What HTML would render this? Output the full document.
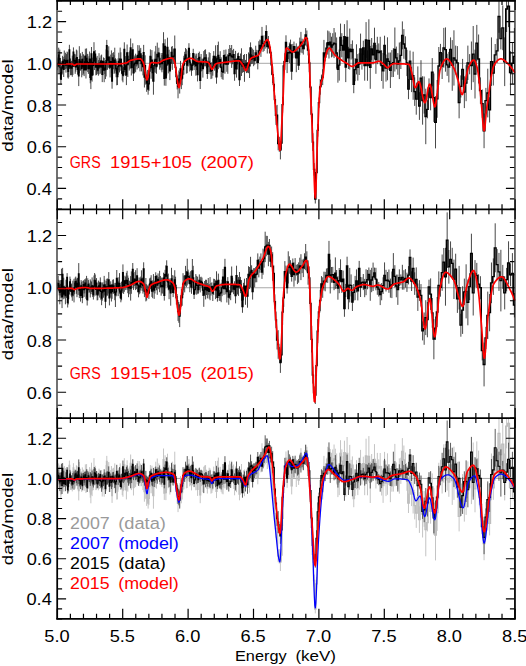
<!DOCTYPE html>
<html><head><meta charset="utf-8"><style>html,body{margin:0;padding:0;background:#fff;overflow:hidden;}svg{display:block;}</style></head>
<body><svg width="526" height="666" viewBox="0 0 526 666">
<rect width="526" height="666" fill="#fff"/><clipPath id="c1"><rect x="57.5" y="0.75" width="457.50" height="208.50"/></clipPath><clipPath id="c2"><rect x="57.5" y="209.40" width="457.50" height="208.96"/></clipPath><clipPath id="c3"><rect x="57.5" y="418.20" width="457.50" height="200.75"/></clipPath><path d="M57.5 63.30H515.0" stroke="#a8a8a8" stroke-width="1"/><path d="M57.5 287.76H515.0" stroke="#a8a8a8" stroke-width="1"/><path d="M57.5 478.43H515.0" stroke="#a8a8a8" stroke-width="1"/><g clip-path="url(#c1)"><path d="M57.60 57.5V70.2M58.15 58.9V73.4M58.70 47.7V62.0M59.26 51.2V68.2M59.81 49.6V67.8M60.36 67.1V79.2M60.92 74.1V84.4M61.48 66.0V79.8M62.04 61.3V74.7M62.60 55.8V67.3M63.16 57.0V67.1M63.72 61.6V77.0M64.28 50.5V69.4M64.85 55.7V65.6M65.41 52.7V69.1M65.98 57.9V72.6M66.55 54.1V68.4M67.11 51.6V69.3M67.68 52.3V77.5M68.26 64.2V78.6M68.83 59.6V77.1M69.40 44.8V54.7M69.98 58.7V67.3M70.55 58.5V75.2M71.13 61.2V75.1M71.71 60.8V75.1M72.29 55.6V76.8M72.87 57.6V74.9M73.45 47.4V57.0M74.03 54.7V66.9M74.62 53.8V67.1M75.20 54.4V73.8M75.79 62.1V71.7M76.38 49.6V67.0M76.97 50.5V64.8M77.56 64.1V74.7M78.15 60.7V74.1M78.74 65.7V86.1M79.34 46.2V73.2M79.93 55.4V66.9M80.53 53.3V70.7M81.13 55.8V69.9M81.73 59.5V77.3M82.33 51.9V67.1M82.93 58.5V75.2M83.53 54.3V73.6M84.14 63.6V76.1M84.74 56.1V67.6M85.35 48.7V63.6M85.96 61.4V78.5M86.57 48.4V68.4M87.18 53.8V69.0M87.79 54.2V72.1M88.40 63.2V73.9M89.02 56.2V68.9M89.63 51.5V66.7M90.25 71.3V83.3M90.87 70.1V89.1M91.49 47.0V60.7M92.11 68.6V81.6M92.74 57.7V67.2M93.36 55.5V75.4M93.99 42.2V61.9M94.61 51.5V70.0M95.24 50.1V58.3M95.87 58.9V75.4M96.50 57.6V74.9M97.13 55.9V72.4M97.77 65.8V74.1M98.40 60.1V75.7M99.04 53.2V74.3M99.68 57.8V68.6M100.32 60.0V73.7M100.96 55.5V67.7M101.60 54.6V67.4M102.24 66.5V82.1M102.89 65.1V75.2M103.54 57.4V66.0M104.18 58.0V82.2M104.83 62.2V74.0M105.48 60.0V79.1M106.14 49.4V76.5M106.79 39.9V51.3M107.45 50.2V69.8M108.10 50.6V67.1M108.76 46.3V68.1M109.42 56.5V69.0M110.08 57.1V77.4M110.74 54.6V68.5M111.41 50.4V73.2M112.07 73.7V88.7M112.74 53.1V62.6M113.41 52.2V69.3M114.08 55.2V73.9M114.75 47.7V72.8M115.42 58.1V70.6M116.10 59.3V77.2M116.78 61.2V85.3M117.45 68.0V85.0M118.13 58.3V74.8M118.81 52.7V70.2M119.50 58.5V72.4M120.18 47.6V70.7M120.87 52.3V66.7M121.55 58.8V74.2M122.24 65.0V80.6M122.93 67.8V82.3M123.62 66.9V76.4M124.32 42.3V56.5M125.01 63.5V75.3M125.71 56.1V75.9M126.41 64.7V85.1M127.11 44.5V61.6M127.81 52.2V77.0M128.51 55.7V64.2M129.22 52.1V70.6M129.92 50.6V69.1M130.63 38.5V57.0M131.34 59.5V75.5M132.05 52.7V68.0M132.77 43.3V56.4M133.48 64.6V81.0M134.20 56.6V73.2M134.91 55.4V71.3M135.63 53.7V72.3M136.36 55.5V66.5M137.08 57.6V69.5M137.80 45.1V65.5M138.53 53.3V68.1M139.26 45.3V57.2M139.99 49.5V71.4M140.72 47.9V59.7M141.46 55.6V71.4M142.19 55.0V66.4M142.93 57.6V75.4M143.67 44.9V60.5M144.41 66.7V87.5M145.15 55.3V75.9M145.89 71.4V84.8M146.64 74.5V91.8M147.39 69.9V87.2M148.14 83.3V94.7M148.89 76.8V91.0M149.64 64.1V78.4M150.40 49.4V63.2M151.15 56.5V78.8M151.91 50.1V70.2M152.67 64.1V81.4M153.44 67.5V94.7M154.20 58.8V72.4M154.97 51.5V69.2M155.74 45.9V72.8M156.51 59.6V73.8M157.28 42.6V66.2M158.05 52.0V61.4M158.83 47.7V58.6M159.60 58.5V69.6M160.38 57.8V67.6M161.17 53.0V70.3M161.95 55.0V72.3M162.73 53.0V69.7M163.52 32.2V55.5M164.31 71.1V85.6M165.10 39.2V53.3M165.90 70.0V85.8M166.69 54.4V75.5M167.49 37.7V57.0M168.29 54.3V73.4M169.09 49.7V65.8M169.89 61.7V80.1M170.70 57.7V68.3M171.50 46.8V58.3M172.31 46.0V69.9M173.13 49.2V63.9M173.94 48.5V64.0M174.75 35.5V62.9M175.57 61.5V73.0M176.39 70.7V82.6M177.21 77.3V89.4M178.04 74.8V98.3M178.86 70.5V87.7M179.69 72.0V93.6M180.52 60.9V76.7M181.35 68.9V89.1M182.19 70.9V85.2M183.02 63.8V75.2M183.86 55.8V74.6M184.70 51.8V64.9M185.55 48.0V61.6M186.39 49.2V73.6M187.24 57.1V73.2M188.09 50.6V66.5M188.94 43.2V53.9M189.80 53.0V71.5M190.65 59.6V70.1M191.51 63.4V75.8M192.37 60.2V70.6M193.23 48.8V58.5M194.10 58.3V70.1M194.97 53.6V67.1M195.84 55.6V75.7M196.71 53.6V70.0M197.58 67.9V81.4M198.46 53.0V64.3M199.34 51.6V63.0M200.22 71.7V89.0M201.11 54.0V71.4M201.99 58.7V71.1M202.88 59.3V77.6M203.77 51.1V67.4M204.66 49.9V66.2M205.56 49.4V66.3M206.46 54.2V68.2M207.36 67.7V78.9M208.26 57.4V67.2M209.17 52.2V72.2M210.07 53.0V74.3M210.99 62.9V79.1M211.90 62.1V78.5M212.81 58.5V75.7M213.73 51.1V61.5M214.65 55.8V70.7M215.57 45.3V68.4M216.50 69.8V83.7M217.43 45.0V72.6M218.36 41.6V69.2M219.29 57.2V67.3M220.23 51.2V68.2M221.16 57.3V77.2M222.10 63.7V79.1M223.05 64.3V79.8M223.99 49.9V61.6M224.94 54.0V73.7M225.89 49.5V65.1M226.85 56.1V71.8M227.80 54.1V73.8M228.76 48.9V62.5M229.72 45.0V62.2M230.69 48.0V62.4M231.66 45.0V67.9M232.62 50.2V64.3M233.60 48.9V60.3M234.57 66.2V80.8M235.55 50.9V68.7M236.53 59.9V77.6M237.52 53.3V64.5M238.50 52.6V60.9M239.49 73.3V86.0M240.48 53.5V65.2M241.48 48.3V76.0M242.48 59.2V72.8M243.48 55.0V72.1M244.48 54.1V81.8M245.49 59.9V70.3M246.49 54.0V73.1M247.51 62.6V72.7M248.52 52.4V73.2M249.54 53.7V78.0M250.56 42.4V53.1M251.58 54.2V64.1M252.61 48.6V63.8M253.64 49.9V66.2M254.67 56.3V64.7M255.71 45.7V60.2M256.75 49.8V63.2M257.79 55.5V69.4M258.83 41.2V60.5M259.88 39.6V50.9M260.93 40.2V56.9M261.99 26.9V46.0M263.05 35.5V51.9M264.11 40.7V50.9M265.17 35.2V48.7M266.24 25.2V38.1M267.31 39.6V53.5M268.38 36.0V47.5M269.45 42.7V53.6M270.53 46.6V58.3M271.62 54.9V74.8M272.70 66.2V83.1M273.79 77.2V91.3M274.88 95.4V103.9M275.98 105.7V124.9M277.08 104.9V125.5M278.18 137.0V150.3M279.29 136.8V151.8M280.40 141.1V159.4M281.51 136.2V149.7M282.63 96.8V112.7M283.74 60.9V70.8M284.87 53.2V69.9M285.99 35.3V49.3M287.12 49.6V73.1M288.26 46.0V59.1M289.39 42.5V63.1M290.53 39.6V50.4M291.68 62.2V79.9M292.82 43.9V58.4M293.97 41.6V51.8M295.13 46.2V57.7M296.29 43.4V72.2M297.45 46.5V57.9M298.61 60.0V70.0M299.78 37.6V55.2M300.95 31.9V52.5M302.13 38.7V53.2M303.31 42.5V54.6M304.49 40.6V49.3M305.68 28.1V41.5M306.87 30.5V46.5M308.07 44.7V55.4M309.26 53.6V72.2M310.47 81.8V92.4M311.67 106.2V122.0M312.88 133.2V150.9M314.10 163.1V175.6M315.31 194.7V203.5M316.54 165.6V179.8M317.76 124.1V136.7M318.99 97.5V107.8M320.23 79.1V94.7M321.46 74.6V86.7M322.70 69.2V85.1M323.95 39.9V66.0M325.20 52.5V61.4M326.45 43.1V53.1M327.71 30.5V54.6M328.97 31.3V58.5M330.24 32.8V51.7M331.51 36.7V57.4M332.78 33.2V56.6M334.06 28.0V58.1M335.35 32.4V55.1M336.63 37.4V68.6M337.92 56.0V82.7M339.22 49.5V80.6M340.52 23.6V51.0M341.82 33.2V57.3M343.13 39.8V60.3M344.45 24.1V49.1M345.76 52.1V82.1M347.09 20.3V54.4M348.41 46.8V69.0M349.74 28.5V69.6M351.08 44.0V59.5M352.42 40.4V58.5M353.76 75.6V93.2M355.11 58.2V81.2M356.47 44.3V74.4M357.82 54.1V80.6M359.19 53.1V75.0M360.55 33.6V64.1M361.93 53.3V69.6M363.30 40.7V55.1M364.69 50.2V80.7M366.07 22.1V58.0M367.46 50.3V80.8M368.86 19.3V61.5M370.26 45.9V88.8M371.67 38.0V60.1M373.08 45.2V64.4M374.49 27.7V59.4M375.91 45.1V73.8M377.34 36.8V64.2M378.77 43.4V62.0M380.21 36.8V65.4M381.65 50.3V81.0M383.09 53.0V88.7M384.54 35.7V55.2M386.00 54.5V81.6M387.46 37.3V80.3M388.93 52.6V70.0M390.40 52.5V88.0M391.88 50.1V77.1M393.36 48.2V77.0M394.85 27.5V71.5M396.34 46.6V69.3M397.84 53.1V74.8M399.34 42.5V79.1M400.85 41.8V69.0M402.37 21.4V49.3M403.89 29.1V58.8M405.41 36.3V59.9M406.95 49.8V76.1M408.48 79.0V99.2M410.03 50.6V71.5M411.58 66.8V92.1M413.13 51.7V99.8M414.69 77.4V105.9M416.26 83.6V114.7M417.83 66.4V99.9M419.41 92.2V119.9M420.99 60.2V96.1M422.58 76.2V124.7M424.17 76.5V113.6M425.78 88.7V144.2M427.38 100.2V118.3M429.00 78.4V97.3M430.62 84.7V110.3M432.24 58.1V86.3M433.87 73.5V121.9M435.51 96.2V148.4M437.16 80.0V117.8M438.81 47.0V85.0M440.46 43.9V61.5M442.13 53.0V79.0M443.80 27.9V67.7M445.47 27.4V71.7M447.16 53.8V75.9M448.85 51.9V82.4M450.54 37.4V61.2M452.24 40.1V90.8M453.95 30.3V85.6M455.67 45.6V74.5M457.39 46.1V79.7M459.12 87.2V118.3M460.86 75.4V97.5M462.60 58.9V79.8M464.35 76.3V108.1M466.11 65.2V101.2M467.87 45.6V80.0M469.64 54.1V74.3M471.42 41.5V89.9M473.21 26.0V82.2M475.00 49.6V98.5M476.80 24.9V61.4M478.60 34.5V83.5M480.42 77.4V103.8M482.24 89.5V117.8M484.07 113.5V148.2M485.90 87.9V113.4M487.75 68.7V117.4M489.60 97.2V122.5M491.46 37.4V85.9M493.33 60.9V85.5M495.20 44.0V65.7M497.08 38.7V63.0M498.97 0.1V32.8M500.87 27.9V49.4M502.77 5.4V50.2M504.69 37.4V86.1M506.61 -14.0V32.0M508.54 -14.6V27.1M510.48 51.2V94.0M512.42 42.7V84.1M514.38 28.0V84.7" stroke="#333" stroke-width="0.9" fill="none"/><path d="M57.32 63.9H57.88V66.1H58.43V54.8H58.98V59.7H59.53V58.7H60.09V73.1H60.64V79.2H61.20V72.9H61.76V68.0H62.32V61.5H62.88V62.1H63.44V69.3H64.00V59.9H64.56V60.6H65.13V60.9H65.69V65.2H66.26V61.2H66.83V60.5H67.40V64.9H67.97V71.4H68.54V68.3H69.11V49.8H69.69V63.0H70.26V66.8H70.84V68.1H71.42V68.0H72.00V66.2H72.58V66.3H73.16V52.2H73.74V60.8H74.32V60.4H74.91V64.1H75.50V66.9H76.08V58.3H76.67V57.6H77.26V69.4H77.85V67.4H78.45V75.9H79.04V59.7H79.63V61.2H80.23V62.0H80.83V62.8H81.43V68.4H82.03V59.5H82.63V66.9H83.23V63.9H83.83V69.9H84.44V61.9H85.05V56.2H85.65V69.9H86.26V58.4H86.87V61.4H87.48V63.1H88.10V68.6H88.71V62.6H89.33V59.1H89.94V77.3H90.56V79.6H91.18V53.8H91.80V75.1H92.42V62.4H93.05V65.4H93.67V52.0H94.30V60.8H94.93V54.2H95.56V67.2H96.19V66.3H96.82V64.1H97.45V70.0H98.09V67.9H98.72V63.8H99.36V63.2H100.00V66.9H100.64V61.6H101.28V61.0H101.92V74.3H102.57V70.2H103.21V61.7H103.86V70.1H104.51V68.1H105.16V69.5H105.81V63.0H106.46V45.6H107.12V60.0H107.77V58.8H108.43V57.2H109.09V62.8H109.75V67.2H110.41V61.6H111.08V61.8H111.74V81.2H112.41V57.8H113.07V60.8H113.74V64.6H114.42V60.2H115.09V64.4H115.76V68.3H116.44V73.2H117.11V76.5H117.79V66.5H118.47V61.5H119.15V65.5H119.84V59.1H120.52V59.5H121.21V66.5H121.90V72.8H122.59V75.0H123.28V71.6H123.97V49.4H124.66V69.4H125.36V66.0H126.06V74.9H126.76V53.0H127.46V64.6H128.16V60.0H128.86V61.4H129.57V59.8H130.28V47.8H130.99V67.5H131.70V60.3H132.41V49.9H133.12V72.8H133.84V64.9H134.56V63.4H135.27V63.0H136.00V61.0H136.72V63.5H137.44V55.3H138.17V60.7H138.90V51.3H139.62V60.5H140.36V53.8H141.09V63.5H141.82V60.7H142.56V66.5H143.30V52.7H144.04V77.1H144.78V65.6H145.52V78.1H146.27V83.2H147.01V78.6H147.76V89.0H148.51V83.9H149.27V71.2H150.02V56.3H150.78V67.6H151.53V60.2H152.29V72.7H153.06V81.1H153.82V65.6H154.58V60.4H155.35V59.4H156.12V66.7H156.89V54.4H157.66V56.7H158.44V53.2H159.22V64.1H159.99V62.7H160.78V61.7H161.56V63.6H162.34V61.3H163.13V43.9H163.92V78.4H164.71V46.3H165.50V77.9H166.29V65.0H167.09V47.3H167.89V63.9H168.69V57.7H169.49V70.9H170.29V63.0H171.10V52.5H171.91V57.9H172.72V56.5H173.53V56.2H174.35V49.2H175.16V67.3H175.98V76.6H176.80V83.4H177.62V86.5H178.45V79.1H179.28V82.8H180.11V68.8H180.94V79.0H181.77V78.0H182.61V69.5H183.44V65.2H184.28V58.3H185.13V54.8H185.97V61.4H186.82V65.2H187.66V58.6H188.52V48.5H189.37V62.2H190.22V64.8H191.08V69.6H191.94V65.4H192.80V53.7H193.67V64.2H194.53V60.4H195.40V65.6H196.27V61.8H197.15V74.7H198.02V58.7H198.90V57.3H199.78V80.4H200.66V62.7H201.55V64.9H202.44V68.5H203.33V59.2H204.22V58.0H205.11V57.8H206.01V61.2H206.91V73.3H207.81V62.3H208.71V62.2H209.62V63.7H210.53V71.0H211.44V70.3H212.36V67.1H213.27V56.3H214.19V63.2H215.11V56.8H216.04V76.8H216.96V58.8H217.89V55.4H218.82V62.3H219.76V59.7H220.69V67.2H221.63V71.4H222.58V72.0H223.52V55.7H224.47V63.8H225.42V57.3H226.37V64.0H227.32V64.0H228.28V55.7H229.24V53.6H230.21V55.2H231.17V56.5H232.14V57.2H233.11V54.6H234.09V73.5H235.06V59.8H236.04V68.8H237.02V58.9H238.01V56.7H239.00V79.6H239.99V59.3H240.98V62.1H241.98V66.0H242.98V63.6H243.98V67.9H244.98V65.1H245.99V63.5H247.00V67.7H248.01V62.8H249.03V65.9H250.05V47.8H251.07V59.2H252.10V56.2H253.13V58.1H254.16V60.5H255.19V52.9H256.23V56.5H257.27V62.4H258.31V50.8H259.36V45.3H260.41V48.6H261.46V36.4H262.52V43.7H263.58V45.8H264.64V42.0H265.70V31.6H266.77V46.6H267.84V41.8H268.92V48.2H269.99V52.4H271.08V64.9H272.16V74.7H273.25V84.3H274.34V99.7H275.43V115.3H276.53V115.2H277.63V143.7H278.73V144.3H279.84V150.2H280.95V143.0H282.07V104.7H283.18V65.8H284.31V61.6H285.43V42.3H286.56V61.4H287.69V52.6H288.82V52.8H289.96V45.0H291.10V71.1H292.25V51.2H293.40V46.7H294.55V52.0H295.71V57.8H296.87V52.2H298.03V65.0H299.20V46.4H300.37V42.2H301.54V45.9H302.72V48.6H303.90V44.9H305.09V34.8H306.28V38.5H307.47V50.1H308.67V62.9H309.87V87.1H311.07V114.1H312.28V142.1H313.49V169.4H314.71V199.1H315.93V172.7H317.15V130.4H318.38V102.7H319.61V86.9H320.84V80.7H322.08V77.1H323.33V53.0H324.58V57.0H325.83V48.1H327.08V42.6H328.34V44.9H329.61V42.2H330.87V47.1H332.15V44.9H333.42V43.1H334.70V43.8H335.99V53.0H337.28V69.3H338.57V65.1H339.87V37.3H341.17V45.3H342.48V50.1H343.79V36.6H345.11V67.1H346.43V37.3H347.75V57.9H349.08V49.1H350.41V51.7H351.75V49.4H353.09V84.4H354.44V69.7H355.79V59.4H357.14V67.3H358.51V64.0H359.87V48.9H361.24V61.5H362.62V47.9H363.99V65.5H365.38V40.0H366.77V65.5H368.16V40.4H369.56V67.4H370.96V49.0H372.37V54.8H373.79V43.5H375.20V59.5H376.63V50.5H378.05V52.7H379.49V51.1H380.93V65.7H382.37V70.9H383.82V45.5H385.27V68.1H386.73V58.8H388.19V61.3H389.66V70.3H391.14V63.6H392.62V62.6H394.10V49.5H395.59V57.9H397.09V64.0H398.59V60.8H400.10V55.4H401.61V35.4H403.13V44.0H404.65V48.1H406.18V63.0H407.72V89.1H409.26V61.1H410.80V79.4H412.35V75.7H413.91V91.7H415.47V99.2H417.04V83.1H418.62V106.0H420.20V78.1H421.78V100.5H423.38V95.0H424.97V116.5H426.58V109.3H428.19V87.9H429.81V97.5H431.43V72.2H433.06V97.7H434.69V122.3H436.33V98.9H437.98V66.0H439.64V52.7H441.30V66.0H442.96V47.8H444.64V49.6H446.32V64.9H448.00V67.1H449.69V49.3H451.39V65.4H453.10V58.0H454.81V60.1H456.53V62.9H458.26V102.7H459.99V86.4H461.73V69.3H463.48V92.2H465.23V83.2H466.99V62.8H468.76V64.2H470.53V65.7H472.31V54.1H474.10V74.0H475.90V43.1H477.70V59.0H479.51V90.6H481.33V103.6H483.15V130.8H484.99V100.7H486.83V93.0H488.67V109.9H490.53V61.6H492.39V73.2H494.26V54.8H496.14V50.9H498.03V16.5H499.92V38.7H501.82V27.8H503.73V61.8H505.65V9.0H507.57V6.2H509.51V72.6H511.45V63.4H513.40V56.3H515.36" stroke="#000" stroke-width="1.3" fill="none"/></g><g clip-path="url(#c2)"><path d="M57.60 282.4V289.6M58.15 275.9V291.5M58.70 279.8V290.9M59.26 283.3V295.4M59.81 280.5V304.3M60.36 283.8V295.6M60.92 284.5V297.8M61.48 268.7V292.5M62.04 285.5V308.1M62.60 267.9V281.0M63.16 289.2V299.3M63.72 277.7V296.4M64.28 289.8V298.6M64.85 285.6V294.6M65.41 287.0V304.3M65.98 279.7V296.2M66.55 280.2V297.9M67.11 273.1V281.6M67.68 297.4V307.5M68.26 292.6V304.5M68.83 286.6V294.4M69.40 284.8V294.5M69.98 276.6V287.3M70.55 278.9V291.1M71.13 287.1V295.6M71.71 283.5V297.3M72.29 289.0V300.8M72.87 280.7V296.5M73.45 287.6V295.7M74.03 278.8V302.4M74.62 281.2V294.3M75.20 277.6V289.1M75.79 276.6V286.7M76.38 279.5V293.8M76.97 278.3V297.2M77.56 277.8V289.2M78.15 278.7V294.9M78.74 263.1V284.7M79.34 282.3V298.1M79.93 283.6V295.2M80.53 288.9V301.6M81.13 280.1V291.8M81.73 281.8V294.2M82.33 291.6V303.2M82.93 280.9V293.5M83.53 280.4V289.1M84.14 282.3V296.9M84.74 279.3V293.4M85.35 279.5V286.9M85.96 278.2V298.8M86.57 275.9V297.1M87.18 294.0V305.5M87.79 278.3V300.7M88.40 280.1V288.6M89.02 282.8V292.7M89.63 284.7V292.3M90.25 279.4V297.5M90.87 280.8V294.1M91.49 281.7V292.0M92.11 277.4V294.2M92.74 284.9V297.0M93.36 289.4V299.6M93.99 275.5V296.6M94.61 273.0V287.7M95.24 274.5V287.4M95.87 283.0V295.6M96.50 278.1V288.1M97.13 287.6V300.4M97.77 289.6V300.1M98.40 280.6V293.9M99.04 281.6V290.4M99.68 283.4V297.6M100.32 277.4V288.3M100.96 282.5V300.1M101.60 290.7V305.2M102.24 283.3V300.7M102.89 282.2V293.6M103.54 284.2V297.7M104.18 275.9V295.5M104.83 279.7V289.8M105.48 294.2V308.1M106.14 281.0V296.6M106.79 278.8V295.2M107.45 278.5V295.7M108.10 282.3V293.5M108.76 272.1V287.7M109.42 290.4V305.4M110.08 283.9V297.6M110.74 281.3V290.1M111.41 284.3V301.5M112.07 283.9V298.8M112.74 279.8V290.6M113.41 279.3V293.8M114.08 282.9V292.4M114.75 284.7V300.2M115.42 282.8V307.0M116.10 287.5V296.4M116.78 270.0V287.0M117.45 278.6V287.3M118.13 277.3V296.1M118.81 280.8V290.5M119.50 273.1V293.7M120.18 285.1V298.1M120.87 294.1V302.3M121.55 281.6V300.3M122.24 282.2V293.2M122.93 264.4V281.0M123.62 276.2V293.9M124.32 280.3V291.8M125.01 275.7V286.2M125.71 276.8V290.1M126.41 272.8V287.8M127.11 270.8V289.9M127.81 275.5V293.2M128.51 277.8V297.2M129.22 280.9V294.3M129.92 280.7V291.0M130.63 276.1V300.6M131.34 271.4V293.8M132.05 279.4V287.9M132.77 263.0V275.9M133.48 273.2V289.9M134.20 278.7V286.6M134.91 272.1V286.0M135.63 270.2V290.1M136.36 280.0V289.1M137.08 268.2V283.5M137.80 277.5V292.2M138.53 285.8V297.3M139.26 277.5V294.3M139.99 280.4V293.3M140.72 276.6V290.5M141.46 270.3V288.1M142.19 277.8V290.9M142.93 277.6V293.6M143.67 262.3V275.6M144.41 285.3V297.1M145.15 283.7V295.1M145.89 278.0V301.4M146.64 284.2V300.5M147.39 285.6V296.8M148.14 285.4V295.1M148.89 287.1V298.9M149.64 278.4V290.7M150.40 277.6V289.2M151.15 275.2V287.4M151.91 285.5V296.9M152.67 280.4V298.2M153.44 274.1V292.3M154.20 281.1V298.9M154.97 280.5V293.5M155.74 272.3V280.9M156.51 275.2V290.3M157.28 275.6V294.8M158.05 273.4V285.2M158.83 277.0V289.2M159.60 270.8V292.2M160.38 276.0V287.3M161.17 277.5V295.7M161.95 277.9V293.4M162.73 280.0V293.5M163.52 272.7V283.7M164.31 290.2V300.6M165.10 269.8V278.9M165.90 265.3V286.7M166.69 260.3V272.4M167.49 274.6V287.4M168.29 273.6V290.3M169.09 278.4V299.2M169.89 280.6V291.3M170.70 279.9V305.7M171.50 267.8V289.7M172.31 275.1V292.6M173.13 287.5V297.1M173.94 275.5V293.7M174.75 270.2V289.8M175.57 276.7V298.4M176.39 284.7V304.5M177.21 296.0V305.4M178.04 301.8V320.9M178.86 302.1V322.8M179.69 305.0V327.1M180.52 295.2V314.2M181.35 288.8V306.7M182.19 289.6V305.8M183.02 273.2V295.1M183.86 275.6V290.4M184.70 275.4V292.4M185.55 265.9V285.9M186.39 271.1V287.2M187.24 258.7V285.5M188.09 269.6V283.7M188.94 272.5V281.2M189.80 275.0V292.2M190.65 271.2V287.1M191.51 280.2V293.8M192.37 259.0V282.7M193.23 265.8V289.7M194.10 289.5V299.0M194.97 285.6V293.8M195.84 274.1V288.6M196.71 275.9V294.7M197.58 276.8V293.7M198.46 285.4V293.6M199.34 274.4V286.1M200.22 277.2V292.4M201.11 276.7V286.3M201.99 277.6V287.5M202.88 284.4V296.0M203.77 283.2V306.8M204.66 281.0V294.1M205.56 279.7V299.4M206.46 279.8V295.0M207.36 283.0V298.4M208.26 278.0V294.8M209.17 284.0V298.7M210.07 277.1V300.2M210.99 283.0V295.5M211.90 282.3V291.0M212.81 285.4V301.0M213.73 278.7V295.0M214.65 279.0V288.7M215.57 280.4V299.2M216.50 271.3V291.2M217.43 293.1V301.6M218.36 273.6V287.3M219.29 290.1V300.8M220.23 286.2V300.9M221.16 282.8V302.2M222.10 279.6V296.2M223.05 269.0V285.1M223.99 282.4V294.9M224.94 258.8V276.3M225.89 283.2V294.4M226.85 280.8V302.5M227.80 277.1V286.7M228.76 289.3V304.8M229.72 290.0V298.8M230.69 283.4V300.2M231.66 266.5V286.3M232.62 277.8V292.3M233.60 284.3V294.2M234.57 281.3V290.2M235.55 287.5V303.4M236.53 265.7V285.6M237.52 279.7V294.5M238.50 277.1V295.9M239.49 272.0V288.6M240.48 276.9V293.2M241.48 280.1V300.8M242.48 300.2V312.8M243.48 282.8V300.4M244.48 278.7V293.8M245.49 286.5V304.8M246.49 278.0V294.2M247.51 284.5V307.7M248.52 266.2V282.3M249.54 267.0V289.1M250.56 256.8V287.4M251.58 265.3V275.7M252.61 283.9V299.6M253.64 268.2V277.9M254.67 268.1V287.3M255.71 266.9V282.4M256.75 266.1V282.2M257.79 253.4V267.5M258.83 258.9V277.4M259.88 256.6V272.7M260.93 253.4V270.0M261.99 265.2V278.9M263.05 248.6V274.7M264.11 249.7V267.6M265.17 231.7V262.1M266.24 235.8V256.3M267.31 235.9V254.5M268.38 241.9V266.2M269.45 239.0V251.7M270.53 255.3V267.1M271.62 246.5V263.3M272.70 252.2V280.8M273.79 265.5V281.3M274.88 294.4V308.8M275.98 311.6V328.2M277.08 330.9V349.5M278.18 330.2V358.8M279.29 347.1V360.0M280.40 352.3V372.9M281.51 347.1V362.7M282.63 299.6V324.8M283.74 288.7V306.9M284.87 261.1V282.1M285.99 265.6V281.4M287.12 281.5V293.6M288.26 251.3V283.5M289.39 256.3V273.7M290.53 260.2V274.7M291.68 271.1V281.6M292.82 258.5V268.3M293.97 262.4V286.7M295.13 258.1V280.6M296.29 264.8V275.7M297.45 264.2V284.1M298.61 262.4V282.7M299.78 257.7V273.9M300.95 254.2V280.1M302.13 259.7V273.1M303.31 258.8V277.1M304.49 253.3V269.2M305.68 244.0V270.2M306.87 251.3V271.6M308.07 260.3V284.7M309.26 266.4V289.1M310.47 296.0V310.8M311.67 326.0V352.5M312.88 366.6V383.6M314.10 386.6V398.6M315.31 386.0V404.0M316.54 355.1V376.0M317.76 319.0V343.1M318.99 306.2V317.4M320.23 289.8V311.1M321.46 276.1V291.8M322.70 277.3V297.8M323.95 271.7V290.5M325.20 271.9V291.3M326.45 268.5V282.4M327.71 268.1V282.9M328.97 240.9V267.7M330.24 259.6V293.5M331.51 267.0V282.7M332.78 266.9V282.5M334.06 274.4V290.2M335.35 257.4V288.9M336.63 270.0V286.0M337.92 276.2V299.7M339.22 268.0V293.2M340.52 259.3V282.2M341.82 270.1V292.9M343.13 270.6V287.6M344.45 300.5V316.8M345.76 283.9V297.1M347.09 256.7V275.1M348.41 287.9V309.3M349.74 267.9V302.4M351.08 274.4V296.4M352.42 293.1V311.0M353.76 284.0V300.7M355.11 275.9V300.2M356.47 269.4V292.4M357.82 281.2V300.4M359.19 260.9V276.1M360.55 277.0V297.0M361.93 277.2V287.7M363.30 274.0V290.1M364.69 278.9V297.2M366.07 269.3V295.2M367.46 270.0V289.3M368.86 267.5V281.1M370.26 269.9V300.8M371.67 267.8V292.2M373.08 262.6V291.0M374.49 267.6V278.3M375.91 267.8V290.3M377.34 279.3V294.8M378.77 281.9V296.6M380.21 283.9V305.1M381.65 283.1V300.3M383.09 277.3V294.0M384.54 262.4V288.5M386.00 269.8V291.5M387.46 272.0V288.5M388.93 269.5V292.8M390.40 278.6V297.7M391.88 271.5V298.1M393.36 253.1V285.5M394.85 265.2V287.5M396.34 274.6V297.3M397.84 274.6V304.9M399.34 269.3V286.1M400.85 274.4V285.3M402.37 264.8V289.7M403.89 270.2V289.7M405.41 269.1V287.6M406.95 272.7V291.9M408.48 266.1V284.4M410.03 249.4V265.2M411.58 271.3V291.0M413.13 257.6V279.3M414.69 272.3V294.9M416.26 267.4V291.3M417.83 283.5V310.9M419.41 280.2V300.9M420.99 284.1V306.5M422.58 321.3V340.4M424.17 312.5V344.8M425.78 300.2V335.1M427.38 302.0V337.3M429.00 279.7V294.3M430.62 278.4V309.9M432.24 298.0V327.7M433.87 319.1V359.3M435.51 316.5V339.8M437.16 297.0V327.1M438.81 271.4V299.1M440.46 278.2V296.7M442.13 254.5V290.8M443.80 248.0V276.4M445.47 247.8V305.7M447.16 212.4V268.0M448.85 250.0V283.7M450.54 241.4V277.2M452.24 247.8V279.0M453.95 259.6V299.0M455.67 253.7V284.4M457.39 284.9V312.9M459.12 265.9V309.5M460.86 313.8V336.7M462.60 286.3V333.9M464.35 278.6V305.1M466.11 264.3V318.4M467.87 279.5V325.3M469.64 273.2V300.1M471.42 233.7V273.3M473.21 270.3V315.5M475.00 260.1V287.0M476.80 262.9V287.8M478.60 274.4V293.9M480.42 276.2V299.3M482.24 340.8V360.4M484.07 342.6V386.4M485.90 326.8V349.0M487.75 291.6V339.0M489.60 294.0V331.3M491.46 262.5V303.2M493.33 258.4V294.9M495.20 223.3V272.3M497.08 249.1V280.2M498.97 252.9V290.9M500.87 249.8V311.4M502.77 264.9V288.8M504.69 276.4V309.4M506.61 267.9V291.3M508.54 241.3V284.5M510.48 263.4V286.3M512.42 253.1V293.4M514.38 293.0V317.4" stroke="#333" stroke-width="0.9" fill="none"/><path d="M57.32 286.0H57.88V283.7H58.43V285.4H58.98V289.3H59.53V292.4H60.09V289.7H60.64V291.2H61.20V280.6H61.76V296.8H62.32V274.4H62.88V294.2H63.44V287.0H64.00V294.2H64.56V290.1H65.13V295.7H65.69V288.0H66.26V289.1H66.83V277.4H67.40V302.5H67.97V298.5H68.54V290.5H69.11V289.6H69.69V282.0H70.26V285.0H70.84V291.3H71.42V290.4H72.00V294.9H72.58V288.6H73.16V291.6H73.74V290.6H74.32V287.7H74.91V283.3H75.50V281.6H76.08V286.7H76.67V287.7H77.26V283.5H77.85V286.8H78.45V273.9H79.04V290.2H79.63V289.4H80.23V295.3H80.83V285.9H81.43V288.0H82.03V297.4H82.63V287.2H83.23V284.7H83.83V289.6H84.44V286.3H85.05V283.2H85.65V288.5H86.26V286.5H86.87V299.7H87.48V289.5H88.10V284.4H88.71V287.7H89.33V288.5H89.94V288.5H90.56V287.5H91.18V286.8H91.80V285.8H92.42V291.0H93.05V294.5H93.67V286.1H94.30V280.3H94.93V281.0H95.56V289.3H96.19V283.1H96.82V294.0H97.45V294.9H98.09V287.2H98.72V286.0H99.36V290.5H100.00V282.8H100.64V291.3H101.28V298.0H101.92V292.0H102.57V287.9H103.21V291.0H103.86V285.7H104.51V284.8H105.16V301.2H105.81V288.8H106.46V287.0H107.12V287.1H107.77V287.9H108.43V279.9H109.09V297.9H109.75V290.8H110.41V285.7H111.08V292.9H111.74V291.3H112.41V285.2H113.07V286.5H113.74V287.7H114.42V292.4H115.09V294.9H115.76V291.9H116.44V278.5H117.11V282.9H117.79V286.7H118.47V285.7H119.15V283.4H119.84V291.6H120.52V298.2H121.21V290.9H121.90V287.7H122.59V272.7H123.28V285.0H123.97V286.0H124.66V280.9H125.36V283.4H126.06V280.3H126.76V280.4H127.46V284.4H128.16V287.5H128.86V287.6H129.57V285.9H130.28V288.4H130.99V282.6H131.70V283.6H132.41V269.5H133.12V281.6H133.84V282.7H134.56V279.1H135.27V280.2H136.00V284.6H136.72V275.8H137.44V284.9H138.17V291.5H138.90V285.9H139.62V286.8H140.36V283.6H141.09V279.2H141.82V284.4H142.56V285.6H143.30V269.0H144.04V291.2H144.78V289.4H145.52V289.7H146.27V292.4H147.01V291.2H147.76V290.3H148.51V293.0H149.27V284.5H150.02V283.4H150.78V281.3H151.53V291.2H152.29V289.3H153.06V283.2H153.82V290.0H154.58V287.0H155.35V276.6H156.12V282.8H156.89V285.2H157.66V279.3H158.44V283.1H159.22V281.5H159.99V281.7H160.78V286.6H161.56V285.6H162.34V286.7H163.13V278.2H163.92V295.4H164.71V274.3H165.50V276.0H166.29V266.4H167.09V281.0H167.89V282.0H168.69V288.8H169.49V285.9H170.29V292.8H171.10V278.8H171.91V283.9H172.72V292.3H173.53V284.6H174.35V280.0H175.16V287.6H175.98V294.6H176.80V300.7H177.62V311.3H178.45V312.4H179.28V316.1H180.11V304.7H180.94V297.8H181.77V297.7H182.61V284.1H183.44V283.0H184.28V283.9H185.13V275.9H185.97V279.2H186.82V272.1H187.66V276.7H188.52V276.8H189.37V283.6H190.22V279.1H191.08V287.0H191.94V270.8H192.80V277.8H193.67V294.2H194.53V289.7H195.40V281.4H196.27V285.3H197.15V285.3H198.02V289.5H198.90V280.3H199.78V284.8H200.66V281.5H201.55V282.5H202.44V290.2H203.33V295.0H204.22V287.5H205.11V289.5H206.01V287.4H206.91V290.7H207.81V286.4H208.71V291.3H209.62V288.7H210.53V289.2H211.44V286.7H212.36V293.2H213.27V286.9H214.19V283.8H215.11V289.8H216.04V281.3H216.96V297.4H217.89V280.4H218.82V295.4H219.76V293.5H220.69V292.5H221.63V287.9H222.58V277.1H223.52V288.6H224.47V267.5H225.42V288.8H226.37V291.7H227.32V281.9H228.28V297.0H229.24V294.4H230.21V291.8H231.17V276.4H232.14V285.0H233.11V289.2H234.09V285.7H235.06V295.5H236.04V275.7H237.02V287.1H238.01V286.5H239.00V280.3H239.99V285.0H240.98V290.4H241.98V306.5H242.98V291.6H243.98V286.2H244.98V295.7H245.99V286.1H247.00V296.1H248.01V274.3H249.03V278.1H250.05V272.1H251.07V270.5H252.10V291.7H253.13V273.0H254.16V277.7H255.19V274.6H256.23V274.1H257.27V260.4H258.31V268.1H259.36V264.7H260.41V261.7H261.46V272.0H262.52V261.7H263.58V258.7H264.64V246.9H265.70V246.1H266.77V245.2H267.84V254.0H268.92V245.3H269.99V261.2H271.08V254.9H272.16V266.5H273.25V273.4H274.34V301.6H275.43V319.9H276.53V340.2H277.63V344.5H278.73V353.5H279.84V362.6H280.95V354.9H282.07V312.2H283.18V297.8H284.31V271.6H285.43V273.5H286.56V287.5H287.69V267.4H288.82V265.0H289.96V267.5H291.10V276.4H292.25V263.4H293.40V274.5H294.55V269.4H295.71V270.2H296.87V274.1H298.03V272.5H299.20V265.8H300.37V267.2H301.54V266.4H302.72V267.9H303.90V261.2H305.09V257.1H306.28V261.5H307.47V272.5H308.67V277.8H309.87V303.4H311.07V339.3H312.28V375.1H313.49V392.6H314.71V395.0H315.93V365.6H317.15V331.1H318.38V311.8H319.61V300.5H320.84V284.0H322.08V287.5H323.33V281.1H324.58V281.6H325.83V275.4H327.08V275.5H328.34V254.3H329.61V276.6H330.87V274.9H332.15V274.7H333.42V282.3H334.70V273.2H335.99V278.0H337.28V288.0H338.57V280.6H339.87V270.7H341.17V281.5H342.48V279.1H343.79V308.7H345.11V290.5H346.43V265.9H347.75V298.6H349.08V285.2H350.41V285.4H351.75V302.0H353.09V292.4H354.44V288.1H355.79V280.9H357.14V290.8H358.51V268.5H359.87V287.0H361.24V282.5H362.62V282.1H363.99V288.0H365.38V282.2H366.77V279.6H368.16V274.3H369.56V285.4H370.96V280.0H372.37V276.8H373.79V272.9H375.20V279.1H376.63V287.1H378.05V289.2H379.49V294.5H380.93V291.7H382.37V285.7H383.82V275.4H385.27V280.6H386.73V280.2H388.19V281.2H389.66V288.1H391.14V284.8H392.62V269.3H394.10V276.3H395.59V286.0H397.09V289.7H398.59V277.7H400.10V279.8H401.61V277.3H403.13V280.0H404.65V278.3H406.18V282.3H407.72V275.2H409.26V257.3H410.80V281.2H412.35V268.4H413.91V283.6H415.47V279.4H417.04V297.2H418.62V290.5H420.20V295.3H421.78V330.8H423.38V328.7H424.97V317.7H426.58V319.7H428.19V287.0H429.81V294.2H431.43V312.9H433.06V339.2H434.69V328.2H436.33V312.0H437.98V285.3H439.64V287.4H441.30V272.6H442.96V262.2H444.64V276.8H446.32V240.2H448.00V266.8H449.69V259.3H451.39V263.4H453.10V279.3H454.81V269.1H456.53V298.9H458.26V287.7H459.99V325.2H461.73V310.1H463.48V291.8H465.23V291.3H466.99V302.4H468.76V286.7H470.53V253.5H472.31V292.9H474.10V273.6H475.90V275.4H477.70V284.1H479.51V287.7H481.33V350.6H483.15V364.5H484.99V337.9H486.83V315.3H488.67V312.6H490.53V282.8H492.39V276.7H494.26V247.8H496.14V264.7H498.03V271.9H499.92V280.6H501.82V276.8H503.73V292.9H505.65V279.6H507.57V262.9H509.51V274.9H511.45V273.3H513.40V305.2H515.36" stroke="#000" stroke-width="1.3" fill="none"/></g><g clip-path="url(#c3)"><path d="M57.60 472.9V485.0M58.15 474.2V488.1M58.70 463.4V477.2M59.26 466.8V483.1M59.81 465.3V482.7M60.36 482.1V493.7M60.92 488.8V498.7M61.48 481.1V494.3M62.04 476.5V489.4M62.60 471.2V482.3M63.16 472.4V482.1M63.72 476.8V491.6M64.28 466.1V484.3M64.85 471.1V480.6M65.41 468.2V484.0M65.98 473.2V487.3M66.55 469.5V483.3M67.11 467.2V484.2M67.68 467.8V492.1M68.26 479.3V493.2M68.83 474.8V491.7M69.40 460.6V470.2M69.98 474.0V482.3M70.55 473.8V489.9M71.13 476.4V489.8M71.71 476.0V489.8M72.29 471.0V491.4M72.87 473.0V489.6M73.45 463.2V472.4M74.03 470.2V481.9M74.62 469.3V482.1M75.20 469.8V488.6M75.79 477.3V486.5M76.38 465.3V482.0M76.97 466.1V479.9M77.56 479.2V489.4M78.15 476.0V488.8M78.74 480.7V500.4M79.34 462.0V487.9M79.93 470.8V481.9M80.53 468.8V485.5M81.13 471.2V484.8M81.73 474.7V491.9M82.33 467.4V482.1M82.93 473.8V489.9M83.53 469.7V488.3M84.14 478.8V490.8M84.74 471.5V482.6M85.35 464.4V478.7M85.96 476.6V493.0M86.57 464.1V483.3M87.18 469.3V483.9M87.79 469.6V486.9M88.40 478.3V488.6M89.02 471.6V483.8M89.63 467.1V481.7M90.25 486.1V497.7M90.87 485.0V503.3M91.49 462.7V475.9M92.11 483.5V496.1M92.74 473.0V482.2M93.36 470.9V490.1M93.99 458.1V477.0M94.61 467.1V484.9M95.24 465.8V473.6M95.87 474.2V490.1M96.50 473.0V489.6M97.13 471.3V487.2M97.77 480.8V488.9M98.40 475.3V490.3M99.04 468.7V489.0M99.68 473.1V483.5M100.32 475.3V488.4M100.96 470.9V482.6M101.60 470.1V482.3M102.24 481.5V496.5M102.89 480.2V489.9M103.54 472.8V481.1M104.18 473.3V496.7M104.83 477.3V488.7M105.48 475.2V493.6M106.14 465.1V491.1M106.79 455.9V466.9M107.45 465.8V484.7M108.10 466.2V482.1M108.76 462.1V483.1M109.42 471.9V483.9M110.08 472.4V492.0M110.74 470.1V483.4M111.41 466.0V488.0M112.07 488.4V502.9M112.74 468.6V477.7M113.41 467.8V484.2M114.08 470.6V488.6M114.75 463.4V487.6M115.42 473.4V485.5M116.10 474.6V491.8M116.78 476.4V499.6M117.45 483.0V499.3M118.13 473.6V489.5M118.81 468.2V485.1M119.50 473.8V487.2M120.18 463.3V485.5M120.87 467.8V481.7M121.55 474.1V488.9M122.24 480.0V495.1M122.93 482.7V496.7M123.62 481.9V491.1M124.32 458.2V471.8M125.01 478.6V490.0M125.71 471.5V490.5M126.41 479.8V499.4M127.11 460.3V476.7M127.81 467.8V491.6M128.51 471.1V479.3M129.22 467.6V485.5M129.92 466.2V484.0M130.63 454.5V472.4M131.34 474.8V490.1M132.05 468.2V483.0M132.77 459.1V471.8M133.48 479.7V495.5M134.20 471.9V487.9M134.91 470.8V486.2M135.63 469.2V487.1M136.36 470.9V481.5M137.08 472.9V484.4M137.80 460.9V480.5M138.53 468.8V483.0M139.26 461.1V472.5M139.99 465.1V486.2M140.72 463.6V475.0M141.46 471.0V486.2M142.19 470.5V481.4M142.93 473.0V490.1M143.67 460.7V475.8M144.41 481.7V501.7M145.15 470.7V490.6M145.89 486.2V499.1M146.64 489.2V505.9M147.39 484.8V501.5M148.14 497.7V508.6M148.89 491.5V505.1M149.64 479.2V493.0M150.40 465.0V478.4M151.15 471.9V493.3M151.91 465.7V485.1M152.67 479.2V495.9M153.44 482.4V508.7M154.20 474.1V487.2M154.97 467.1V484.1M155.74 461.7V487.6M156.51 474.8V488.6M157.28 458.5V481.2M158.05 467.6V476.6M158.83 463.4V473.9M159.60 473.8V484.5M160.38 473.1V482.5M161.17 468.5V485.2M161.95 470.5V487.1M162.73 468.5V484.6M163.52 448.5V470.9M164.31 486.0V499.9M165.10 455.3V468.8M165.90 484.8V500.1M166.69 469.9V490.2M167.49 453.7V472.4M168.29 469.8V488.2M169.09 465.3V480.8M169.89 476.9V494.6M170.70 473.0V483.3M171.50 462.5V473.6M172.31 461.7V484.8M173.13 464.8V479.0M173.94 464.2V479.1M174.75 451.7V478.0M175.57 476.7V487.8M176.39 485.5V497.0M177.21 491.9V503.6M178.04 489.5V512.1M178.86 485.4V502.0M179.69 486.8V507.6M180.52 476.1V491.4M181.35 483.9V503.3M182.19 485.7V499.5M183.02 478.9V489.8M183.86 471.2V489.3M184.70 467.3V479.9M185.55 463.7V476.8M186.39 464.8V488.3M187.24 472.5V488.0M188.09 466.2V481.5M188.94 459.1V469.4M189.80 468.5V486.3M190.65 474.8V485.0M191.51 478.5V490.4M192.37 475.5V485.4M193.23 464.5V473.8M194.10 473.6V485.0M194.97 469.1V482.1M195.84 471.0V490.3M196.71 469.1V484.9M197.58 482.8V495.9M198.46 468.5V479.4M199.34 467.1V478.2M200.22 486.5V503.2M201.11 469.5V486.2M201.99 474.0V486.0M202.88 474.6V492.2M203.77 466.7V482.4M204.66 465.5V481.2M205.56 465.1V481.3M206.46 469.7V483.2M207.36 482.7V493.5M208.26 472.8V482.1M209.17 467.7V487.0M210.07 468.5V489.1M210.99 478.0V493.7M211.90 477.3V493.0M212.81 473.8V490.4M213.73 466.6V476.7M214.65 471.2V485.5M215.57 461.0V483.3M216.50 484.7V498.1M217.43 460.8V487.4M218.36 457.6V484.1M219.29 472.6V482.3M220.23 466.8V483.1M221.16 472.7V491.8M222.10 478.8V493.6M223.05 479.4V494.3M223.99 465.5V476.8M224.94 469.5V488.4M225.89 465.2V480.2M226.85 471.5V486.6M227.80 469.6V488.5M228.76 464.6V477.6M229.72 460.8V477.3M230.69 463.7V477.6M231.66 460.8V482.9M232.62 465.8V479.4M233.60 464.5V475.6M234.57 481.3V495.3M235.55 466.5V483.6M236.53 475.2V492.2M237.52 468.8V479.6M238.50 468.1V476.1M239.49 488.0V500.3M240.48 469.0V480.2M241.48 464.0V490.6M242.48 474.5V487.6M243.48 470.4V486.9M244.48 469.5V496.2M245.49 475.1V485.1M246.49 469.5V487.8M247.51 477.8V487.5M248.52 467.9V488.0M249.54 469.2V492.6M250.56 458.3V468.6M251.58 469.7V479.2M252.61 464.3V478.9M253.64 465.5V481.3M254.67 471.7V479.7M255.71 461.4V475.5M256.75 465.4V478.3M257.79 470.9V484.3M258.83 457.1V475.7M259.88 455.6V466.5M260.93 456.2V472.3M261.99 443.3V461.7M263.05 451.6V467.5M264.11 456.6V466.5M265.17 451.4V464.4M266.24 441.8V454.1M267.31 455.6V469.0M268.38 452.2V463.2M269.45 458.6V469.1M270.53 462.3V473.6M271.62 470.3V489.5M272.70 481.2V497.5M273.79 491.8V505.4M274.88 509.3V517.5M275.98 519.2V537.7M277.08 518.5V538.3M278.18 549.4V562.2M279.29 549.2V563.6M280.40 553.3V571.0M281.51 548.6V561.6M282.63 510.6V526.0M283.74 476.1V485.6M284.87 468.7V484.8M285.99 451.5V464.9M287.12 465.3V487.8M288.26 461.8V474.4M289.39 458.4V478.2M290.53 455.6V466.0M291.68 477.4V494.4M292.82 459.8V473.7M293.97 457.5V467.3M295.13 462.0V473.1M296.29 459.3V487.0M297.45 462.2V473.2M298.61 475.2V484.9M299.78 453.7V470.6M300.95 448.2V468.0M302.13 454.7V468.7M303.31 458.4V470.1M304.49 456.6V465.0M305.68 444.5V457.4M306.87 446.8V462.3M308.07 460.6V470.8M309.26 469.1V487.0M310.47 496.2V506.4M311.67 519.7V534.9M312.88 545.8V562.8M314.10 574.5V586.5M315.31 604.9V613.4M316.54 577.0V590.6M317.76 537.0V549.1M318.99 511.4V521.2M320.23 493.7V508.7M321.46 489.3V501.0M322.70 484.1V499.4M323.95 455.9V481.0M325.20 468.0V476.6M326.45 459.0V468.6M327.71 446.8V470.1M328.97 447.6V473.8M330.24 449.1V467.2M331.51 452.8V472.8M332.78 449.4V472.0M334.06 444.5V473.4M335.35 448.7V470.5M336.63 453.5V483.5M337.92 471.4V497.1M339.22 465.2V495.1M340.52 440.2V466.6M341.82 449.4V472.7M343.13 455.8V475.6M344.45 440.7V464.7M345.76 467.6V496.5M347.09 437.0V469.8M348.41 462.5V483.9M349.74 444.9V484.5M351.08 459.9V474.7M352.42 456.4V473.8M353.76 490.2V507.2M355.11 473.5V495.7M356.47 460.2V489.2M357.82 469.5V495.1M359.19 468.6V489.7M360.55 449.9V479.2M361.93 468.8V484.5M363.30 456.7V470.5M364.69 465.9V495.2M366.07 438.7V473.3M367.46 465.9V495.3M368.86 436.1V476.7M370.26 461.7V503.0M371.67 454.0V475.3M373.08 461.0V479.5M374.49 444.1V474.6M375.91 460.9V488.5M377.34 452.9V479.3M378.77 459.3V477.2M380.21 453.0V480.4M381.65 465.9V495.5M383.09 468.5V502.9M384.54 451.9V470.6M386.00 469.9V496.1M387.46 453.3V494.8M388.93 468.1V484.9M390.40 468.1V502.2M391.88 465.7V491.7M393.36 463.9V491.6M394.85 443.9V486.3M396.34 462.4V484.2M397.84 468.6V489.5M399.34 458.4V493.7M400.85 457.7V483.9M402.37 438.1V465.0M403.89 445.5V474.1M405.41 452.5V475.2M406.95 465.4V490.8M408.48 493.5V513.0M410.03 466.2V486.4M411.58 481.8V506.1M413.13 467.3V513.5M414.69 492.0V519.4M416.26 498.0V527.9M417.83 481.4V513.6M419.41 506.3V532.9M420.99 475.5V510.0M422.58 490.9V537.5M424.17 491.1V526.8M425.78 502.9V556.3M427.38 513.9V531.4M429.00 493.0V511.1M430.62 499.1V523.7M432.24 473.4V500.5M433.87 488.2V534.9M435.51 510.1V560.4M437.16 494.5V530.9M438.81 462.8V499.3M440.46 459.8V476.7M442.13 468.5V493.5M443.80 444.3V482.7M445.47 443.9V486.5M447.16 469.3V490.6M448.85 467.4V496.8M450.54 453.5V476.4M452.24 456.1V504.9M453.95 446.7V499.9M455.67 461.4V489.2M457.39 461.9V494.2M459.12 501.5V531.4M460.86 490.1V511.4M462.60 474.1V494.3M464.35 490.9V521.6M466.11 480.3V514.9M467.87 461.4V494.5M469.64 469.6V489.0M471.42 457.4V504.1M473.21 442.5V496.6M475.00 465.2V512.3M476.80 441.4V476.6M478.60 450.7V497.9M480.42 492.0V517.4M482.24 503.7V530.9M484.07 526.7V560.2M485.90 502.1V526.7M487.75 483.6V530.5M489.60 511.1V535.4M491.46 453.5V500.2M493.33 476.1V499.8M495.20 459.9V480.7M497.08 454.7V478.2M498.97 417.6V449.1M500.87 444.4V465.1M502.77 422.7V465.8M504.69 453.5V500.4M506.61 404.0V448.3M508.54 403.4V443.6M510.48 466.8V508.0M512.42 458.6V498.4M514.38 444.4V499.0" stroke="#bdbdbd" stroke-width="0.9" fill="none"/><path d="M57.32 479.0H57.88V481.2H58.43V470.3H58.98V475.0H59.53V474.0H60.09V487.9H60.64V493.8H61.20V487.7H61.76V483.0H62.32V476.7H62.88V477.2H63.44V484.2H64.00V475.2H64.56V475.9H65.13V476.1H65.69V480.3H66.26V476.4H66.83V475.7H67.40V480.0H67.97V486.2H68.54V483.3H69.11V465.4H69.69V478.2H70.26V481.8H70.84V483.1H71.42V482.9H72.00V481.2H72.58V481.3H73.16V467.8H73.74V476.1H74.32V475.7H74.91V479.2H75.50V481.9H76.08V473.7H76.67V473.0H77.26V484.3H77.85V482.4H78.45V490.6H79.04V474.9H79.63V476.4H80.23V477.1H80.83V478.0H81.43V483.3H82.03V474.7H82.63V481.8H83.23V479.0H83.83V484.8H84.44V477.1H85.05V471.5H85.65V484.8H86.26V473.7H86.87V476.6H87.48V478.2H88.10V483.5H88.71V477.7H89.33V474.4H89.94V491.9H90.56V494.1H91.18V469.3H91.80V489.8H92.42V477.6H93.05V480.5H93.67V467.6H94.30V476.0H94.93V469.7H95.56V482.1H96.19V481.3H96.82V479.2H97.45V484.8H98.09V482.8H98.72V478.9H99.36V478.3H100.00V481.9H100.64V476.8H101.28V476.2H101.92V489.0H102.57V485.1H103.21V476.9H103.86V485.0H104.51V483.0H105.16V484.4H105.81V478.1H106.46V461.4H107.12V475.2H107.77V474.1H108.43V472.6H109.09V477.9H109.75V482.2H110.41V476.7H111.08V477.0H111.74V495.7H112.41V473.2H113.07V476.0H113.74V479.6H114.42V475.5H115.09V479.4H115.76V483.2H116.44V488.0H117.11V491.1H117.79V481.5H118.47V476.7H119.15V480.5H119.84V474.4H120.52V474.8H121.21V481.5H121.90V487.6H122.59V489.7H123.28V486.5H123.97V465.0H124.66V484.3H125.36V481.0H126.06V489.6H126.76V468.5H127.46V479.7H128.16V475.2H128.86V476.6H129.57V475.1H130.28V463.5H130.99V482.5H131.70V475.6H132.41V465.5H133.12V487.6H133.84V479.9H134.56V478.5H135.27V478.1H136.00V476.2H136.72V478.7H137.44V470.7H138.17V475.9H138.90V466.8H139.62V475.7H140.36V469.3H141.09V478.6H141.82V476.0H142.56V481.5H143.30V468.2H144.04V491.7H144.78V480.7H145.52V492.7H146.27V497.6H147.01V493.1H147.76V503.2H148.51V498.3H149.27V486.1H150.02V471.7H150.78V482.6H151.53V475.4H152.29V487.5H153.06V495.6H153.82V480.6H154.58V475.6H155.35V474.6H156.12V481.7H156.89V469.8H157.66V472.1H158.44V468.7H159.22V479.2H159.99V477.8H160.78V476.9H161.56V478.8H162.34V476.5H163.13V459.7H163.92V493.0H164.71V462.0H165.50V492.5H166.29V480.0H167.09V463.1H167.89V479.0H168.69V473.1H169.49V485.7H170.29V478.1H171.10V468.0H171.91V473.3H172.72V471.9H173.53V471.6H174.35V464.9H175.16V482.2H175.98V491.3H176.80V497.7H177.62V500.8H178.45V493.7H179.28V497.2H180.11V483.7H180.94V493.6H181.77V492.6H182.61V484.4H183.44V480.2H184.28V473.6H185.13V470.3H185.97V476.6H186.82V480.2H187.66V473.9H188.52V464.2H189.37V477.4H190.22V479.9H191.08V484.5H191.94V480.5H192.80V469.1H193.67V479.3H194.53V475.6H195.40V480.7H196.27V477.0H197.15V489.4H198.02V474.0H198.90V472.7H199.78V494.8H200.66V477.8H201.55V480.0H202.44V483.4H203.33V474.5H204.22V473.4H205.11V473.2H206.01V476.4H206.91V488.1H207.81V477.5H208.71V477.4H209.62V478.8H210.53V485.8H211.44V485.1H212.36V482.1H213.27V471.7H214.19V478.4H215.11V472.2H216.04V491.4H216.96V474.1H217.89V470.8H218.82V477.4H219.76V475.0H220.69V482.2H221.63V486.2H222.58V486.8H223.52V471.1H224.47V478.9H225.42V472.7H226.37V479.1H227.32V479.1H228.28V471.1H229.24V469.1H230.21V470.6H231.17V471.9H232.14V472.6H233.11V470.1H234.09V488.3H235.06V475.1H236.04V483.7H237.02V474.2H238.01V472.1H239.00V494.2H239.99V474.6H240.98V477.3H241.98V481.0H242.98V478.7H243.98V482.9H244.98V480.1H245.99V478.6H247.00V482.7H248.01V477.9H249.03V480.9H250.05V463.5H251.07V474.4H252.10V471.6H253.13V473.4H254.16V475.7H255.19V468.5H256.23V471.9H257.27V477.6H258.31V466.4H259.36V461.1H260.41V464.2H261.46V452.5H262.52V459.6H263.58V461.6H264.64V457.9H265.70V447.9H266.77V462.3H267.84V457.7H268.92V463.9H269.99V468.0H271.08V479.9H272.16V489.4H273.25V498.6H274.34V513.4H275.43V528.5H276.53V528.4H277.63V555.8H278.73V556.4H279.84V562.1H280.95V555.1H282.07V518.3H283.18V480.9H284.31V476.7H285.43V458.2H286.56V476.6H287.69V468.1H288.82V468.3H289.96V460.8H291.10V485.9H292.25V466.7H293.40V462.4H294.55V467.5H295.71V473.2H296.87V467.7H298.03V480.1H299.20V462.2H300.37V458.1H301.54V461.7H302.72V464.2H303.90V460.8H305.09V451.0H306.28V454.6H307.47V465.7H308.67V478.0H309.87V501.3H311.07V527.3H312.28V554.3H313.49V580.5H314.71V609.2H315.93V583.8H317.15V543.0H318.38V516.3H319.61V501.2H320.84V495.1H322.08V491.7H323.33V468.5H324.58V472.3H325.83V463.8H327.08V458.5H328.34V460.7H329.61V458.2H330.87V462.8H332.15V460.7H333.42V458.9H334.70V459.6H335.99V468.5H337.28V484.2H338.57V480.1H339.87V453.4H341.17V461.1H342.48V465.7H343.79V452.7H345.11V482.1H346.43V453.4H347.75V473.2H349.08V464.7H350.41V467.3H351.75V465.1H353.09V498.7H354.44V484.6H355.79V474.7H357.14V482.3H358.51V479.1H359.87V464.5H361.24V476.7H362.62V463.6H363.99V480.5H365.38V456.0H366.77V480.6H368.16V456.4H369.56V482.3H370.96V464.7H372.37V470.2H373.79V459.4H375.20V474.7H376.63V466.1H378.05V468.2H379.49V466.7H380.93V480.7H382.37V485.7H383.82V461.2H385.27V483.0H386.73V474.1H388.19V476.5H389.66V485.1H391.14V478.7H392.62V477.8H394.10V465.1H395.59V473.3H397.09V479.1H398.59V476.0H400.10V470.8H401.61V451.5H403.13V459.8H404.65V463.8H406.18V478.1H407.72V503.2H409.26V476.3H410.80V494.0H412.35V490.4H413.91V505.7H415.47V513.0H417.04V497.5H418.62V519.6H420.20V492.7H421.78V514.2H423.38V509.0H424.97V529.6H426.58V522.7H428.19V502.1H429.81V511.4H431.43V487.0H433.06V511.6H434.69V535.2H436.33V512.7H437.98V481.0H439.64V468.2H441.30V481.0H442.96V463.5H444.64V465.2H446.32V479.9H448.00V482.1H449.69V464.9H451.39V480.5H453.10V473.3H454.81V475.3H456.53V478.1H458.26V516.4H459.99V500.7H461.73V484.2H463.48V506.3H465.23V497.6H466.99V478.0H468.76V479.3H470.53V480.7H472.31V469.5H474.10V488.8H475.90V459.0H477.70V474.3H479.51V504.7H481.33V517.3H483.15V543.5H484.99V514.4H486.83V507.1H488.67V523.3H490.53V476.8H492.39V487.9H494.26V470.3H496.14V466.4H498.03V433.3H499.92V454.7H501.82V444.2H503.73V476.9H505.65V426.2H507.57V423.5H509.51V487.4H511.45V478.5H513.40V471.7H515.36" stroke="#bdbdbd" stroke-width="1.3" fill="none"/><path d="M57.60 474.3V479.8M58.15 469.3V481.3M58.70 472.3V480.9M59.26 475.0V484.3M59.81 472.8V491.1M60.36 475.4V484.4M60.92 475.9V486.2M61.48 463.7V482.1M62.04 476.7V494.0M62.60 463.1V473.2M63.16 479.5V487.3M63.72 470.7V485.0M64.28 480.0V486.8M64.85 476.7V483.7M65.41 477.8V491.2M65.98 472.2V484.9M66.55 472.7V486.2M67.11 467.2V473.7M67.68 485.8V493.6M68.26 482.2V491.3M68.83 477.5V483.5M69.40 476.2V483.6M69.98 469.9V478.1M70.55 471.6V481.0M71.13 477.9V484.5M71.71 475.1V485.8M72.29 479.4V488.5M72.87 473.0V485.2M73.45 478.3V484.5M74.03 471.5V489.7M74.62 473.3V483.5M75.20 470.6V479.4M75.79 469.8V477.6M76.38 472.1V483.1M76.97 471.1V485.7M77.56 470.8V479.5M78.15 471.5V483.9M78.74 459.4V476.1M79.34 474.3V486.4M79.93 475.2V484.1M80.53 479.3V489.1M81.13 472.6V481.5M81.73 473.8V483.4M82.33 481.4V490.3M82.93 473.1V482.8M83.53 472.8V479.4M84.14 474.2V485.4M84.74 471.9V482.7M85.35 472.1V477.8M85.96 471.1V486.9M86.57 469.3V485.6M87.18 483.2V492.0M87.79 471.1V488.4M88.40 472.5V479.1M89.02 474.6V482.2M89.63 476.1V481.9M90.25 472.0V485.9M90.87 473.1V483.3M91.49 473.8V481.6M92.11 470.5V483.4M92.74 476.3V485.6M93.36 479.7V487.5M93.99 469.0V485.3M94.61 467.1V478.3M95.24 468.2V478.2M95.87 474.8V484.5M96.50 471.0V478.7M97.13 478.3V488.1M97.77 479.9V487.9M98.40 472.9V483.1M99.04 473.7V480.5M99.68 475.1V486.0M100.32 470.4V478.8M100.96 474.4V487.9M101.60 480.7V491.8M102.24 475.0V488.4M102.89 474.1V482.9M103.54 475.7V486.1M104.18 469.3V484.4M104.83 472.3V480.0M105.48 483.4V494.0M106.14 473.2V485.2M106.79 471.6V484.1M107.45 471.3V484.5M108.10 474.2V482.8M108.76 466.4V478.4M109.42 480.5V492.0M110.08 475.5V486.0M110.74 473.5V480.2M111.41 475.8V489.0M112.07 475.5V486.9M112.74 472.3V480.6M113.41 471.9V483.0M114.08 474.7V482.0M114.75 476.0V488.0M115.42 474.6V493.2M116.10 478.2V485.1M116.78 464.8V477.9M117.45 471.4V478.1M118.13 470.4V484.9M118.81 473.1V480.6M119.50 467.1V483.0M120.18 476.3V486.4M120.87 483.3V489.6M121.55 473.7V488.1M122.24 474.2V482.6M122.93 460.5V473.2M123.62 469.5V483.1M124.32 472.7V481.5M125.01 469.1V477.2M125.71 470.0V480.2M126.41 466.9V478.5M127.11 465.4V480.1M127.81 469.0V482.6M128.51 470.8V485.7M129.22 473.1V483.5M129.92 473.0V480.9M130.63 469.5V488.3M131.34 465.8V483.0M132.05 472.0V478.5M132.77 459.4V469.3M133.48 467.2V480.1M134.20 471.5V477.6M134.91 466.4V477.1M135.63 465.0V480.2M136.36 472.5V479.4M137.08 463.4V475.1M137.80 470.6V481.9M138.53 476.9V485.8M139.26 470.5V483.4M139.99 472.7V482.7M140.72 469.8V480.6M141.46 465.0V478.7M142.19 470.8V480.9M142.93 470.6V482.9M143.67 458.9V469.1M144.41 476.5V485.6M145.15 475.3V484.1M145.89 470.9V488.9M146.64 475.7V488.2M147.39 476.8V485.3M148.14 476.6V484.1M148.89 477.9V487.0M149.64 471.2V480.7M150.40 470.6V479.6M151.15 468.8V478.1M151.91 476.7V485.5M152.67 472.8V486.4M153.44 467.9V481.9M154.20 473.3V487.0M154.97 472.9V482.9M155.74 466.6V473.2M156.51 468.8V480.3M157.28 469.1V483.8M158.05 467.4V476.4M158.83 470.2V479.5M159.60 465.4V481.8M160.38 469.4V478.1M161.17 470.5V484.5M161.95 470.8V482.8M162.73 472.4V482.8M163.52 466.9V475.3M164.31 480.3V488.3M165.10 464.6V471.6M165.90 461.1V477.6M166.69 457.3V466.6M167.49 468.3V478.1M168.29 467.6V480.4M169.09 471.2V487.2M169.89 472.9V481.1M170.70 472.4V492.2M171.50 463.1V479.9M172.31 468.7V482.2M173.13 478.2V485.6M173.94 469.0V483.0M174.75 464.9V480.0M175.57 469.9V486.6M176.39 476.1V491.3M177.21 484.7V492.0M178.04 489.2V503.9M178.86 489.4V505.3M179.69 491.7V508.6M180.52 484.1V498.8M181.35 479.3V493.0M182.19 479.8V492.3M183.02 467.2V484.0M183.86 469.1V480.5M184.70 468.9V482.0M185.55 461.7V477.0M186.39 465.6V478.0M187.24 456.1V476.7M188.09 464.5V475.3M188.94 466.7V473.4M189.80 468.6V481.9M190.65 465.7V477.9M191.51 472.6V483.1M192.37 456.3V474.5M193.23 461.6V479.9M194.10 479.8V487.1M194.97 476.8V483.0M195.84 467.9V479.1M196.71 469.3V483.8M197.58 470.0V483.0M198.46 476.6V482.9M199.34 468.1V477.2M200.22 470.3V482.0M201.11 469.9V477.3M201.99 470.6V478.2M202.88 475.8V484.7M203.77 474.9V493.1M204.66 473.2V483.3M205.56 472.2V487.3M206.46 472.3V484.0M207.36 474.8V486.6M208.26 470.9V483.8M209.17 475.6V486.8M210.07 470.3V488.0M210.99 474.8V484.3M211.90 474.3V480.9M212.81 476.6V488.6M213.73 471.4V484.0M214.65 471.7V479.1M215.57 472.8V487.2M216.50 465.8V481.1M217.43 482.5V489.1M218.36 467.5V478.1M219.29 480.2V488.4M220.23 477.2V488.5M221.16 474.6V489.5M222.10 472.1V484.9M223.05 464.0V476.4M223.99 474.3V483.9M224.94 456.2V469.6M225.89 475.0V483.5M226.85 473.1V489.8M227.80 470.3V477.6M228.76 479.6V491.5M229.72 480.2V486.9M230.69 475.1V488.0M231.66 462.1V477.3M232.62 470.7V481.9M233.60 475.7V483.4M234.57 473.4V480.3M235.55 478.3V490.5M236.53 461.5V476.8M237.52 472.2V483.6M238.50 470.2V484.7M239.49 466.3V479.1M240.48 470.1V482.6M241.48 472.5V488.4M242.48 488.0V497.7M243.48 474.6V488.1M244.48 471.4V483.1M245.49 477.5V491.5M246.49 470.9V483.4M247.51 475.9V493.8M248.52 461.8V474.2M249.54 462.5V479.5M250.56 454.6V478.1M251.58 461.2V469.2M252.61 475.4V487.5M253.64 463.4V470.9M254.67 463.3V478.1M255.71 462.4V474.3M256.75 461.8V474.2M257.79 452.0V462.8M258.83 456.2V470.4M259.88 454.5V466.9M260.93 452.0V464.8M261.99 461.1V471.6M263.05 448.3V468.4M264.11 449.2V463.0M265.17 435.3V458.7M266.24 438.5V454.2M267.31 438.5V452.9M268.38 443.2V461.9M269.45 440.9V450.7M270.53 453.5V462.5M271.62 446.7V459.7M272.70 451.1V473.1M273.79 461.3V473.5M274.88 483.6V494.6M275.98 496.7V509.5M277.08 511.6V525.9M278.18 511.1V533.0M279.29 524.0V533.9M280.40 528.0V543.9M281.51 524.0V536.0M282.63 487.5V506.9M283.74 479.1V493.1M284.87 457.9V474.0M285.99 461.4V473.6M287.12 473.6V482.9M288.26 450.4V475.1M289.39 454.3V467.6M290.53 457.3V468.4M291.68 465.7V473.7M292.82 455.9V463.4M293.97 458.9V477.6M295.13 455.7V472.9M296.29 460.8V469.1M297.45 460.3V475.6M298.61 458.9V474.5M299.78 455.3V467.7M300.95 452.7V472.5M302.13 456.9V467.2M303.31 456.2V470.2M304.49 451.9V464.1M305.68 444.8V464.9M306.87 450.4V466.0M308.07 457.3V476.1M309.26 462.0V479.5M310.47 484.8V496.1M311.67 507.8V528.2M312.88 539.0V552.0M314.10 554.4V563.6M315.31 553.9V567.7M316.54 530.2V546.3M317.76 502.4V521.0M318.99 492.6V501.2M320.23 480.0V496.4M321.46 469.4V481.5M322.70 470.4V486.1M323.95 466.1V480.6M325.20 466.3V481.1M326.45 463.6V474.3M327.71 463.3V474.7M328.97 442.4V463.0M330.24 456.8V482.9M331.51 462.5V474.5M332.78 462.4V474.4M334.06 468.2V480.3M335.35 455.1V479.3M336.63 464.7V477.1M337.92 469.5V487.6M339.22 463.3V482.6M340.52 456.5V474.1M341.82 464.8V482.4M343.13 465.3V478.3M344.45 488.2V500.8M345.76 475.4V485.6M347.09 454.6V468.7M348.41 478.6V495.0M349.74 463.2V489.7M351.08 468.1V485.1M352.42 482.5V496.3M353.76 475.5V488.4M355.11 469.3V488.0M356.47 464.3V482.0M357.82 473.4V488.2M359.19 457.8V469.4M360.55 470.2V485.5M361.93 470.3V478.4M363.30 467.9V480.2M364.69 471.6V485.6M366.07 464.2V484.1M367.46 464.7V479.6M368.86 462.9V473.3M370.26 464.7V488.5M371.67 463.1V481.8M373.08 459.1V480.9M374.49 462.9V471.1M375.91 463.1V480.4M377.34 472.0V483.9M378.77 473.9V485.2M380.21 475.5V491.7M381.65 474.8V488.1M383.09 470.4V483.3M384.54 458.9V479.0M386.00 464.6V481.3M387.46 466.3V479.0M388.93 464.4V482.3M390.40 471.4V486.0M391.88 465.9V486.4M393.36 451.7V476.7M394.85 461.1V478.2M396.34 468.3V485.8M397.84 468.3V491.6M399.34 464.3V477.1M400.85 468.2V476.5M402.37 460.8V479.9M403.89 464.9V479.9M405.41 464.1V478.3M406.95 466.8V481.6M408.48 461.8V475.8M410.03 449.0V461.1M411.58 465.8V481.0M413.13 455.2V471.9M414.69 466.6V483.9M416.26 462.8V481.1M417.83 475.2V496.2M419.41 472.6V488.5M420.99 475.6V492.8M422.58 504.2V518.9M424.17 497.5V522.2M425.78 488.0V514.8M427.38 489.4V516.5M429.00 472.2V483.5M430.62 471.2V495.5M432.24 486.3V509.1M433.87 502.5V533.4M435.51 500.5V518.4M437.16 485.5V508.6M438.81 465.9V487.1M440.46 471.0V485.3M442.13 452.8V480.8M443.80 447.8V469.7M445.47 447.7V492.2M447.16 420.5V463.2M448.85 449.4V475.3M450.54 442.8V470.3M452.24 447.7V471.7M453.95 456.8V487.1M455.67 452.3V475.9M457.39 476.2V497.7M459.12 461.6V495.1M460.86 498.5V516.0M462.60 477.3V513.9M464.35 471.3V491.7M466.11 460.4V502.0M467.87 472.1V507.3M469.64 467.3V487.9M471.42 436.9V467.3M473.21 465.0V499.7M475.00 457.2V477.8M476.80 459.3V478.5M478.60 468.1V483.1M480.42 469.5V487.3M482.24 519.2V534.3M484.07 520.5V554.2M485.90 508.4V525.5M487.75 481.4V517.8M489.60 483.2V511.9M491.46 459.0V490.3M493.33 455.9V483.9M495.20 428.9V466.6M497.08 448.7V472.6M498.97 451.7V480.8M500.87 449.3V496.6M502.77 460.9V479.2M504.69 469.7V495.0M506.61 463.2V481.1M508.54 442.7V475.9M510.48 459.7V477.3M512.42 451.8V482.8M514.38 482.5V501.2" stroke="#333" stroke-width="0.8" fill="none"/><path d="M57.32 477.1H57.88V475.3H58.43V476.6H58.98V479.6H59.53V482.0H60.09V479.9H60.64V481.1H61.20V472.9H61.76V485.4H62.32V468.2H62.88V483.4H63.44V477.9H64.00V483.4H64.56V480.2H65.13V484.5H65.69V478.6H66.26V479.4H66.83V470.4H67.40V489.7H67.97V486.7H68.54V480.5H69.11V479.9H69.69V474.0H70.26V476.3H70.84V481.2H71.42V480.4H72.00V483.9H72.58V479.1H73.16V481.4H73.74V480.6H74.32V478.4H74.91V475.0H75.50V473.7H76.08V477.6H76.67V478.4H77.26V475.1H77.85V477.7H78.45V467.8H79.04V480.3H79.63V479.7H80.23V484.2H80.83V477.0H81.43V478.6H82.03V485.8H82.63V478.0H83.23V476.1H83.83V479.8H84.44V477.3H85.05V474.9H85.65V479.0H86.26V477.5H86.87V487.6H87.48V479.8H88.10V475.8H88.71V478.4H89.33V479.0H89.94V479.0H90.56V478.2H91.18V477.7H91.80V476.9H92.42V480.9H93.05V483.6H93.67V477.1H94.30V472.7H94.93V473.2H95.56V479.6H96.19V474.8H96.82V483.2H97.45V483.9H98.09V478.0H98.72V477.1H99.36V480.5H100.00V474.6H100.64V481.1H101.28V486.3H101.92V481.7H102.57V478.5H103.21V480.9H103.86V476.8H104.51V476.1H105.16V488.7H105.81V479.2H106.46V477.8H107.12V477.9H107.77V478.5H108.43V472.4H109.09V486.2H109.75V480.8H110.41V476.8H111.08V482.4H111.74V481.2H112.41V476.4H113.07V477.5H113.74V478.3H114.42V482.0H115.09V483.9H115.76V481.6H116.44V471.3H117.11V474.7H117.79V477.6H118.47V476.8H119.15V475.1H119.84V481.4H120.52V486.4H121.21V480.9H121.90V478.4H122.59V466.8H123.28V476.3H123.97V477.1H124.66V473.2H125.36V475.1H126.06V472.7H126.76V472.7H127.46V475.8H128.16V478.2H128.86V478.3H129.57V477.0H130.28V478.9H130.99V474.4H131.70V475.2H132.41V464.4H133.12V473.7H133.84V474.5H134.56V471.7H135.27V472.6H136.00V476.0H136.72V469.3H137.44V476.2H138.17V481.3H138.90V477.0H139.62V477.7H140.36V475.2H141.09V471.8H141.82V475.8H142.56V476.8H143.30V464.0H144.04V481.1H144.78V479.7H145.52V479.9H146.27V482.0H147.01V481.1H147.76V480.4H148.51V482.5H149.27V475.9H150.02V475.1H150.78V473.4H151.53V481.1H152.29V479.6H153.06V474.9H153.82V480.1H154.58V477.9H155.35V469.9H156.12V474.6H156.89V476.4H157.66V471.9H158.44V474.9H159.22V473.6H159.99V473.7H160.78V477.5H161.56V476.8H162.34V477.6H163.13V471.1H163.92V484.3H164.71V468.1H165.50V469.4H166.29V462.0H167.09V473.2H167.89V474.0H168.69V479.2H169.49V477.0H170.29V482.3H171.10V471.5H171.91V475.4H172.72V481.9H173.53V476.0H174.35V472.4H175.16V478.3H175.98V483.7H176.80V488.4H177.62V496.5H178.45V497.4H179.28V500.2H180.11V491.4H180.94V486.1H181.77V486.0H182.61V475.6H183.44V474.8H184.28V475.4H185.13V469.3H185.97V471.8H186.82V466.4H187.66V469.9H188.52V470.0H189.37V475.2H190.22V471.8H191.08V477.8H191.94V465.4H192.80V470.8H193.67V483.4H194.53V479.9H195.40V473.5H196.27V476.6H197.15V476.5H198.02V479.8H198.90V472.7H199.78V476.2H200.66V473.6H201.55V474.4H202.44V480.3H203.33V484.0H204.22V478.3H205.11V479.8H206.01V478.1H206.91V480.7H207.81V477.4H208.71V481.2H209.62V479.1H210.53V479.6H211.44V477.6H212.36V482.6H213.27V477.7H214.19V475.4H215.11V480.0H216.04V473.4H216.96V485.8H217.89V472.8H218.82V484.3H219.76V482.9H220.69V482.1H221.63V478.5H222.58V470.2H223.52V479.1H224.47V462.9H225.42V479.2H226.37V481.4H227.32V473.9H228.28V485.6H229.24V483.5H230.21V481.5H231.17V469.7H232.14V476.3H233.11V479.6H234.09V476.9H235.06V484.4H236.04V469.1H237.02V477.9H238.01V477.5H239.00V472.7H239.99V476.3H240.98V480.5H241.98V492.8H242.98V481.4H243.98V477.3H244.98V484.5H245.99V477.1H247.00V484.8H248.01V468.0H249.03V471.0H250.05V466.4H251.07V465.2H252.10V481.5H253.13V467.1H254.16V470.7H255.19V468.3H256.23V468.0H257.27V457.4H258.31V463.3H259.36V460.7H260.41V458.4H261.46V466.3H262.52V458.4H263.58V456.1H264.64V447.0H265.70V446.4H266.77V445.7H267.84V452.5H268.92V445.8H269.99V458.0H271.08V453.2H272.16V462.1H273.25V467.4H274.34V489.1H275.43V503.1H276.53V518.7H277.63V522.0H278.73V529.0H279.84V536.0H280.95V530.0H282.07V497.2H283.18V486.1H284.31V466.0H285.43V467.5H286.56V478.3H287.69V462.8H288.82V461.0H289.96V462.8H291.10V469.7H292.25V459.7H293.40V468.3H294.55V464.3H295.71V465.0H296.87V468.0H298.03V466.7H299.20V461.5H300.37V462.6H301.54V462.0H302.72V463.2H303.90V458.0H305.09V454.9H306.28V458.2H307.47V466.7H308.67V470.7H309.87V490.5H311.07V518.0H312.28V545.5H313.49V559.0H314.71V560.8H315.93V538.2H317.15V511.7H318.38V496.9H319.61V488.2H320.84V475.5H322.08V478.3H323.33V473.3H324.58V473.7H325.83V469.0H327.08V469.0H328.34V452.7H329.61V469.8H330.87V468.5H332.15V468.4H333.42V474.2H334.70V467.2H335.99V470.9H337.28V478.6H338.57V472.9H339.87V465.3H341.17V473.6H342.48V471.8H343.79V494.5H345.11V480.5H346.43V461.6H347.75V486.8H349.08V476.4H350.41V476.6H351.75V489.4H353.09V482.0H354.44V478.7H355.79V473.2H357.14V480.8H358.51V463.6H359.87V477.8H361.24V474.4H362.62V474.1H363.99V478.6H365.38V474.2H366.77V472.2H368.16V468.1H369.56V476.6H370.96V472.4H372.37V470.0H373.79V467.0H375.20V471.8H376.63V477.9H378.05V479.6H379.49V483.6H380.93V481.5H382.37V476.8H383.82V469.0H385.27V472.9H386.73V472.7H388.19V473.4H389.66V478.7H391.14V476.2H392.62V464.2H394.10V469.6H395.59V477.1H397.09V479.9H398.59V470.7H400.10V472.3H401.61V470.4H403.13V472.4H404.65V471.2H406.18V474.2H407.72V468.8H409.26V455.0H410.80V473.4H412.35V463.6H413.91V475.2H415.47V472.0H417.04V485.7H418.62V480.6H420.20V484.2H421.78V511.5H423.38V509.9H424.97V501.4H426.58V502.9H428.19V477.8H429.81V483.3H431.43V497.7H433.06V518.0H434.69V509.5H436.33V497.1H437.98V476.5H439.64V478.2H441.30V466.8H442.96V458.8H444.64V470.0H446.32V441.9H448.00V462.3H449.69V456.5H451.39V459.7H453.10V471.9H454.81V464.1H456.53V487.0H458.26V478.4H459.99V507.2H461.73V495.6H463.48V481.5H465.23V481.2H466.99V489.7H468.76V477.6H470.53V452.1H472.31V482.4H474.10V467.5H475.90V468.9H477.70V475.6H479.51V478.4H481.33V526.7H483.15V537.4H484.99V517.0H486.83V499.6H488.67V497.5H490.53V474.6H492.39V469.9H494.26V447.7H496.14V460.7H498.03V466.2H499.92V472.9H501.82V470.0H503.73V482.4H505.65V472.1H507.57V459.3H509.51V468.5H511.45V467.3H513.40V491.9H515.36" stroke="#000" stroke-width="1.1" fill="none"/></g><path d="M57.3 64.00 L57.8 64.00 L58.3 64.00 L58.8 64.00 L59.3 64.00 L59.8 64.00 L60.3 64.00 L60.8 64.00 L61.3 64.00 L61.8 64.00 L62.3 64.00 L62.8 64.00 L63.3 64.00 L63.8 64.00 L64.3 64.00 L64.8 64.00 L65.3 64.00 L65.8 64.00 L66.3 64.00 L66.8 64.00 L67.3 64.00 L67.8 64.00 L68.3 64.00 L68.8 64.00 L69.3 64.00 L69.8 64.00 L70.3 64.00 L70.8 64.00 L71.3 64.00 L71.8 64.00 L72.3 64.05 L72.8 64.29 L73.3 64.64 L73.8 64.97 L74.3 65.18 L74.8 65.15 L75.3 64.91 L75.8 64.56 L76.3 64.23 L76.8 64.02 L77.3 64.00 L77.8 64.00 L78.3 64.00 L78.8 64.00 L79.3 64.00 L79.8 64.00 L80.3 64.00 L80.8 64.00 L81.3 64.00 L81.8 64.00 L82.3 64.00 L82.8 64.00 L83.3 64.00 L83.8 64.00 L84.3 64.00 L84.8 64.00 L85.3 64.00 L85.8 64.00 L86.3 64.00 L86.8 64.00 L87.3 64.00 L87.8 64.00 L88.3 64.00 L88.8 64.00 L89.3 64.00 L89.8 64.00 L90.3 64.00 L90.8 64.00 L91.3 64.00 L91.8 64.00 L92.3 64.00 L92.8 64.00 L93.3 64.00 L93.8 64.00 L94.3 64.00 L94.8 64.00 L95.3 64.00 L95.8 64.00 L96.3 64.00 L96.8 64.00 L97.3 64.00 L97.8 64.00 L98.3 64.00 L98.8 64.00 L99.3 64.00 L99.8 64.00 L100.3 64.00 L100.8 64.00 L101.3 64.00 L101.8 64.00 L102.3 64.00 L102.8 64.00 L103.3 64.00 L103.8 63.99 L104.3 63.99 L104.8 63.99 L105.3 63.99 L105.8 63.99 L106.3 63.98 L106.8 63.98 L107.3 63.98 L107.8 63.97 L108.3 63.97 L108.8 63.97 L109.3 63.96 L109.8 63.96 L110.3 63.95 L110.8 63.95 L111.3 63.94 L111.8 63.94 L112.3 63.93 L112.8 63.92 L113.3 63.92 L113.8 63.91 L114.3 63.90 L114.8 63.90 L115.3 63.89 L115.8 63.88 L116.3 63.87 L116.8 63.86 L117.3 63.85 L117.8 63.85 L118.3 63.84 L118.8 63.83 L119.3 63.82 L119.8 63.80 L120.3 63.79 L120.8 63.77 L121.3 63.73 L121.8 63.69 L122.3 63.64 L122.8 63.57 L123.3 63.50 L123.8 63.42 L124.3 63.34 L124.8 63.25 L125.3 63.15 L125.8 63.04 L126.3 62.92 L126.8 62.72 L127.3 62.46 L127.8 62.15 L128.3 61.82 L128.8 61.48 L129.3 61.14 L129.8 60.83 L130.3 60.56 L130.8 60.36 L131.3 60.22 L131.8 60.09 L132.3 59.96 L132.8 59.84 L133.3 59.71 L133.8 59.60 L134.3 59.49 L134.8 59.38 L135.3 59.29 L135.8 59.19 L136.3 59.11 L136.8 59.04 L137.3 58.97 L137.8 58.92 L138.3 58.87 L138.8 58.84 L139.3 58.81 L139.8 58.80 L140.3 58.84 L140.8 59.06 L141.3 59.47 L141.8 60.05 L142.3 60.77 L142.8 61.63 L143.3 62.59 L143.8 63.95 L144.3 66.59 L144.8 69.87 L145.3 72.98 L145.8 75.51 L146.3 78.10 L146.8 79.81 L147.3 79.62 L147.8 77.70 L148.3 75.04 L148.8 72.07 L149.3 67.91 L149.8 64.58 L150.3 63.61 L150.8 63.07 L151.3 62.70 L151.8 62.52 L152.3 62.51 L152.8 62.53 L153.3 62.58 L153.8 62.65 L154.3 62.72 L154.8 62.79 L155.3 62.87 L155.8 62.93 L156.3 62.97 L156.8 63.00 L157.3 62.99 L157.8 62.92 L158.3 62.80 L158.8 62.64 L159.3 62.43 L159.8 62.20 L160.3 61.94 L160.8 61.66 L161.3 61.37 L161.8 61.09 L162.3 60.80 L162.8 60.53 L163.3 60.28 L163.8 60.06 L164.3 59.86 L164.8 59.71 L165.3 59.55 L165.8 59.38 L166.3 59.22 L166.8 59.06 L167.3 58.90 L167.8 58.74 L168.3 58.60 L168.8 58.46 L169.3 58.34 L169.8 58.23 L170.3 58.14 L170.8 58.07 L171.3 58.03 L171.8 58.00 L172.3 58.07 L172.8 58.44 L173.3 59.11 L173.8 59.99 L174.3 61.05 L174.8 62.52 L175.3 65.37 L175.8 69.13 L176.3 73.15 L176.8 76.79 L177.3 79.79 L177.8 83.02 L178.3 85.85 L178.8 87.53 L179.3 87.35 L179.8 85.47 L180.3 82.56 L180.8 79.27 L181.3 75.67 L181.8 70.74 L182.3 66.54 L182.8 64.71 L183.3 63.46 L183.8 62.48 L184.3 61.74 L184.8 61.18 L185.3 60.75 L185.8 60.35 L186.3 59.97 L186.8 59.62 L187.3 59.31 L187.8 59.03 L188.3 58.79 L188.8 58.59 L189.3 58.44 L189.8 58.34 L190.3 58.30 L190.8 58.32 L191.3 58.41 L191.8 58.56 L192.3 58.75 L192.8 58.98 L193.3 59.25 L193.8 59.53 L194.3 59.83 L194.8 60.13 L195.3 60.42 L195.8 60.70 L196.3 60.95 L196.8 61.17 L197.3 61.34 L197.8 61.47 L198.3 61.54 L198.8 61.60 L199.3 61.65 L199.8 61.69 L200.3 61.72 L200.8 61.75 L201.3 61.77 L201.8 61.80 L202.3 61.82 L202.8 61.83 L203.3 61.85 L203.8 61.88 L204.3 61.90 L204.8 61.93 L205.3 61.97 L205.8 62.01 L206.3 62.06 L206.8 62.12 L207.3 62.20 L207.8 62.28 L208.3 62.51 L208.8 63.06 L209.3 63.82 L209.8 64.67 L210.3 65.62 L210.8 67.02 L211.3 68.42 L211.8 69.31 L212.3 69.28 L212.8 68.64 L213.3 67.72 L213.8 66.80 L214.3 66.07 L214.8 65.29 L215.3 64.53 L215.8 63.93 L216.3 63.60 L216.8 63.46 L217.3 63.33 L217.8 63.21 L218.3 63.11 L218.8 63.02 L219.3 62.94 L219.8 62.87 L220.3 62.81 L220.8 62.75 L221.3 62.70 L221.8 62.65 L222.3 62.61 L222.8 62.56 L223.3 62.52 L223.8 62.47 L224.3 62.42 L224.8 62.37 L225.3 62.31 L225.8 62.25 L226.3 62.18 L226.8 62.12 L227.3 62.05 L227.8 61.97 L228.3 61.90 L228.8 61.83 L229.3 61.75 L229.8 61.68 L230.3 61.61 L230.8 61.54 L231.3 61.47 L231.8 61.40 L232.3 61.33 L232.8 61.26 L233.3 61.20 L233.8 61.14 L234.3 61.09 L234.8 61.03 L235.3 60.99 L235.8 60.94 L236.3 60.91 L236.8 60.87 L237.3 60.85 L237.8 60.82 L238.3 60.81 L238.8 60.80 L239.3 60.82 L239.8 61.05 L240.3 61.49 L240.8 62.08 L241.3 62.77 L241.8 63.50 L242.3 64.23 L242.8 64.96 L243.3 65.95 L243.8 67.09 L244.3 68.25 L244.8 69.30 L245.3 70.12 L245.8 70.56 L246.3 70.42 L246.8 69.46 L247.3 67.95 L247.8 66.21 L248.3 64.56 L248.8 63.15 L249.3 61.59 L249.8 60.12 L250.3 59.05 L250.8 58.53 L251.3 58.15 L251.8 57.84 L252.3 57.57 L252.8 57.35 L253.3 57.15 L253.8 56.97 L254.3 56.78 L254.8 56.59 L255.3 56.38 L255.8 56.21 L256.3 56.05 L256.8 55.90 L257.3 55.71 L257.8 55.48 L258.3 55.15 L258.8 54.55 L259.3 53.71 L259.8 52.70 L260.3 51.59 L260.8 50.47 L261.3 49.40 L261.8 48.40 L262.3 47.35 L262.8 46.29 L263.3 45.26 L263.8 44.33 L264.3 43.51 L264.8 42.65 L265.3 41.78 L265.8 40.98 L266.3 40.30 L266.8 39.79 L267.3 39.53 L267.8 39.68 L268.3 40.66 L268.8 42.26 L269.3 44.19 L269.8 46.44 L270.3 49.70 L270.8 53.73 L271.3 58.18 L271.8 62.90 L272.3 68.38 L272.8 74.38 L273.3 80.56 L273.8 86.74 L274.3 93.26 L274.8 99.82 L275.3 106.00 L275.8 111.83 L276.3 117.54 L276.8 123.05 L277.3 128.28 L277.8 133.16 L278.3 137.90 L278.8 143.12 L279.3 147.71 L279.8 150.42 L280.3 149.51 L280.8 143.28 L281.3 133.86 L281.8 123.72 L282.3 114.48 L282.8 104.35 L283.3 92.62 L283.8 79.12 L284.3 68.15 L284.8 59.66 L285.3 54.19 L285.8 50.50 L286.3 48.24 L286.8 48.04 L287.3 48.25 L287.8 48.59 L288.3 48.99 L288.8 49.37 L289.3 49.70 L289.8 50.10 L290.3 50.53 L290.8 50.96 L291.3 51.36 L291.8 51.69 L292.3 51.92 L292.8 52.00 L293.3 51.92 L293.8 51.70 L294.3 51.37 L294.8 50.98 L295.3 50.57 L295.8 50.15 L296.3 49.77 L296.8 49.36 L297.3 48.93 L297.8 48.46 L298.3 47.98 L298.8 47.46 L299.3 46.93 L299.8 46.37 L300.3 45.77 L300.8 45.12 L301.3 44.43 L301.8 43.72 L302.3 43.01 L302.8 42.29 L303.3 41.53 L303.8 40.60 L304.3 39.60 L304.8 38.67 L305.3 37.94 L305.8 37.54 L306.3 37.68 L306.8 38.70 L307.3 40.37 L307.8 42.48 L308.3 46.31 L308.8 52.00 L309.3 61.43 L309.8 74.53 L310.3 87.68 L310.8 98.74 L311.3 109.20 L311.8 119.40 L312.3 129.60 L312.8 140.07 L313.3 151.46 L313.8 166.10 L314.3 181.28 L314.8 193.19 L315.3 198.00 L315.8 191.50 L316.3 176.21 L316.8 158.41 L317.3 144.19 L317.8 131.67 L318.3 119.06 L318.8 107.38 L319.3 97.63 L319.8 90.82 L320.3 86.82 L320.8 83.76 L321.3 81.61 L321.8 80.38 L322.3 79.64 L322.8 78.26 L323.3 74.98 L323.8 70.37 L324.3 65.31 L324.8 60.69 L325.3 57.40 L325.8 55.18 L326.3 53.22 L326.8 51.60 L327.3 50.37 L327.8 49.51 L328.3 48.76 L328.8 48.21 L329.3 48.00 L329.8 48.18 L330.3 48.64 L330.8 49.29 L331.3 50.03 L331.8 50.74 L332.3 51.39 L332.8 52.09 L333.3 52.84 L333.8 53.57 L334.3 54.24 L334.8 54.80 L335.3 55.31 L335.8 55.78 L336.3 56.24 L336.8 56.67 L337.3 57.08 L337.8 57.47 L338.3 57.85 L338.8 58.22 L339.3 58.58 L339.8 58.93 L340.3 59.27 L340.8 59.62 L341.3 59.96 L341.8 60.31 L342.3 60.64 L342.8 60.97 L343.3 61.29 L343.8 61.60 L344.3 61.91 L344.8 62.21 L345.3 62.51 L345.8 62.80 L346.3 63.09 L346.8 63.38 L347.3 63.68 L347.8 64.01 L348.3 64.37 L348.8 64.73 L349.3 65.09 L349.8 65.43 L350.3 65.75 L350.8 66.01 L351.3 66.22 L351.8 66.35 L352.3 66.40 L352.8 66.34 L353.3 66.18 L353.8 65.94 L354.3 65.63 L354.8 65.27 L355.3 64.88 L355.8 64.48 L356.3 64.08 L356.8 63.71 L357.3 63.38 L357.8 63.11 L358.3 62.91 L358.8 62.81 L359.3 62.80 L359.8 62.80 L360.3 62.80 L360.8 62.81 L361.3 62.81 L361.8 62.81 L362.3 62.82 L362.8 62.82 L363.3 62.83 L363.8 62.83 L364.3 62.84 L364.8 62.84 L365.3 62.85 L365.8 62.85 L366.3 62.86 L366.8 62.86 L367.3 62.87 L367.8 62.88 L368.3 62.88 L368.8 62.88 L369.3 62.89 L369.8 62.89 L370.3 62.90 L370.8 62.90 L371.3 62.90 L371.8 62.90 L372.3 62.89 L372.8 62.85 L373.3 62.76 L373.8 62.65 L374.3 62.51 L374.8 62.36 L375.3 62.20 L375.8 62.03 L376.3 61.87 L376.8 61.71 L377.3 61.58 L377.8 61.46 L378.3 61.37 L378.8 61.31 L379.3 61.30 L379.8 61.39 L380.3 61.58 L380.8 61.86 L381.3 62.21 L381.8 62.60 L382.3 63.04 L382.8 63.48 L383.3 63.92 L383.8 64.34 L384.3 64.76 L384.8 65.28 L385.3 65.86 L385.8 66.45 L386.3 66.98 L386.8 67.40 L387.3 67.65 L387.8 67.68 L388.3 67.47 L388.8 67.09 L389.3 66.61 L389.8 66.08 L390.3 65.56 L390.8 65.13 L391.3 64.81 L391.8 64.47 L392.3 64.15 L392.8 63.89 L393.3 63.73 L393.8 63.70 L394.3 63.70 L394.8 63.70 L395.3 63.70 L395.8 63.71 L396.3 63.71 L396.8 63.72 L397.3 63.72 L397.8 63.73 L398.3 63.74 L398.8 63.75 L399.3 63.76 L399.8 63.77 L400.3 63.79 L400.8 63.80 L401.3 63.82 L401.8 63.84 L402.3 63.86 L402.8 63.88 L403.3 63.91 L403.8 63.94 L404.3 63.97 L404.8 64.00 L405.3 64.04 L405.8 64.07 L406.3 64.11 L406.8 64.16 L407.3 64.20 L407.8 64.25 L408.3 64.30 L408.8 64.35 L409.3 64.43 L409.8 65.22 L410.3 66.78 L410.8 68.77 L411.3 70.85 L411.8 72.78 L412.3 75.13 L412.8 77.85 L413.3 80.68 L413.8 83.35 L414.3 85.59 L414.8 87.13 L415.3 87.70 L415.8 87.38 L416.3 86.57 L416.8 85.44 L417.3 84.20 L417.8 83.04 L418.3 82.14 L418.8 81.71 L419.3 81.97 L419.8 82.98 L420.3 84.61 L420.8 86.71 L421.3 89.13 L421.8 91.72 L422.3 94.35 L422.8 96.86 L423.3 99.10 L423.8 100.93 L424.3 102.21 L424.8 102.78 L425.3 102.43 L425.8 101.07 L426.3 98.96 L426.8 96.33 L427.3 93.45 L427.8 90.57 L428.3 87.94 L428.8 85.83 L429.3 84.47 L429.8 84.12 L430.3 84.91 L430.8 86.64 L431.3 89.08 L431.8 92.00 L432.3 95.18 L432.8 98.38 L433.3 101.37 L433.8 103.92 L434.3 105.81 L434.8 106.81 L435.3 106.44 L435.8 104.03 L436.3 100.38 L436.8 96.45 L437.3 92.71 L437.8 88.13 L438.3 83.07 L438.8 78.11 L439.3 73.82 L439.8 70.75 L440.3 69.12 L440.8 67.71 L441.3 66.40 L441.8 65.17 L442.3 64.04 L442.8 63.01 L443.3 62.08 L443.8 61.26 L444.3 60.56 L444.8 59.97 L445.3 59.51 L445.8 59.17 L446.3 58.97 L446.8 58.90 L447.3 58.97 L447.8 59.18 L448.3 59.52 L448.8 59.96 L449.3 60.51 L449.8 61.15 L450.3 61.86 L450.8 62.64 L451.3 63.47 L451.8 64.33 L452.3 65.23 L452.8 66.14 L453.3 67.05 L453.8 67.98 L454.3 69.05 L454.8 70.27 L455.3 71.62 L455.8 73.08 L456.3 74.61 L456.8 76.19 L457.3 77.79 L457.8 79.37 L458.3 81.02 L458.8 83.02 L459.3 85.26 L459.8 87.58 L460.3 89.81 L460.8 91.78 L461.3 93.35 L461.8 94.34 L462.3 94.57 L462.8 93.72 L463.3 91.88 L463.8 89.37 L464.3 86.50 L464.8 83.58 L465.3 80.92 L465.8 78.64 L466.3 76.22 L466.8 73.76 L467.3 71.42 L467.8 69.39 L468.3 67.84 L468.8 66.72 L469.3 65.64 L469.8 64.62 L470.3 63.66 L470.8 62.78 L471.3 61.99 L471.8 61.31 L472.3 60.76 L472.8 60.35 L473.3 60.09 L473.8 60.00 L474.3 60.24 L474.8 60.90 L475.3 61.92 L475.8 63.21 L476.3 64.71 L476.8 66.33 L477.3 68.18 L477.8 70.83 L478.3 74.14 L478.8 77.87 L479.3 81.81 L479.8 86.45 L480.3 91.78 L480.8 97.39 L481.3 102.91 L481.8 108.36 L482.3 114.79 L482.8 121.32 L483.3 126.87 L483.8 130.35 L484.3 130.71 L484.8 127.81 L485.3 122.83 L485.8 117.04 L486.3 111.72 L486.8 107.73 L487.3 104.17 L487.8 100.77 L488.3 97.38 L488.8 93.88 L489.3 90.10 L489.8 86.20 L490.3 82.45 L490.8 79.14 L491.3 76.38 L491.8 73.70 L492.3 71.16 L492.8 68.87 L493.3 66.94 L493.8 65.49 L494.3 64.59 L494.8 63.83 L495.3 63.11 L495.8 62.44 L496.3 61.82 L496.8 61.25 L497.3 60.74 L497.8 60.28 L498.3 59.88 L498.8 59.55 L499.3 59.28 L499.8 59.08 L500.3 58.96 L500.8 58.90 L501.3 58.92 L501.8 59.02 L502.3 59.18 L502.8 59.40 L503.3 59.68 L503.8 60.01 L504.3 60.38 L504.8 60.79 L505.3 61.23 L505.8 61.69 L506.3 62.18 L506.8 62.68 L507.3 63.19 L507.8 63.70 L508.3 64.21 L508.8 64.70 L509.3 65.20 L509.8 65.73 L510.3 66.30 L510.8 66.90 L511.3 67.53 L511.8 68.20 L512.3 68.89 L512.8 69.61 L513.3 70.35 L513.8 71.11 L514.3 71.89 L514.8 72.68" stroke="#f00" stroke-width="1.7" fill="none" stroke-linejoin="round"/><path d="M57.3 288.40 L57.8 288.40 L58.3 288.40 L58.8 288.40 L59.3 288.40 L59.8 288.40 L60.3 288.40 L60.8 288.40 L61.3 288.40 L61.8 288.40 L62.3 288.40 L62.8 288.40 L63.3 288.40 L63.8 288.40 L64.3 288.40 L64.8 288.40 L65.3 288.40 L65.8 288.40 L66.3 288.40 L66.8 288.40 L67.3 288.40 L67.8 288.40 L68.3 288.40 L68.8 288.40 L69.3 288.40 L69.8 288.40 L70.3 288.40 L70.8 288.40 L71.3 288.40 L71.8 288.40 L72.3 288.45 L72.8 288.69 L73.3 289.04 L73.8 289.37 L74.3 289.58 L74.8 289.56 L75.3 289.34 L75.8 289.03 L76.3 288.70 L76.8 288.46 L77.3 288.34 L77.8 288.25 L78.3 288.16 L78.8 288.07 L79.3 287.99 L79.8 287.92 L80.3 287.85 L80.8 287.79 L81.3 287.73 L81.8 287.68 L82.3 287.63 L82.8 287.60 L83.3 287.56 L83.8 287.54 L84.3 287.52 L84.8 287.51 L85.3 287.50 L85.8 287.51 L86.3 287.55 L86.8 287.62 L87.3 287.71 L87.8 287.81 L88.3 287.92 L88.8 288.03 L89.3 288.13 L89.8 288.23 L90.3 288.31 L90.8 288.37 L91.3 288.40 L91.8 288.40 L92.3 288.40 L92.8 288.40 L93.3 288.40 L93.8 288.40 L94.3 288.39 L94.8 288.39 L95.3 288.39 L95.8 288.39 L96.3 288.38 L96.8 288.38 L97.3 288.38 L97.8 288.37 L98.3 288.37 L98.8 288.36 L99.3 288.35 L99.8 288.35 L100.3 288.34 L100.8 288.33 L101.3 288.33 L101.8 288.32 L102.3 288.31 L102.8 288.30 L103.3 288.29 L103.8 288.28 L104.3 288.27 L104.8 288.26 L105.3 288.25 L105.8 288.24 L106.3 288.23 L106.8 288.22 L107.3 288.20 L107.8 288.19 L108.3 288.18 L108.8 288.16 L109.3 288.15 L109.8 288.13 L110.3 288.12 L110.8 288.10 L111.3 288.08 L111.8 288.06 L112.3 288.05 L112.8 288.03 L113.3 288.01 L113.8 287.99 L114.3 287.97 L114.8 287.95 L115.3 287.93 L115.8 287.91 L116.3 287.89 L116.8 287.86 L117.3 287.84 L117.8 287.82 L118.3 287.79 L118.8 287.77 L119.3 287.74 L119.8 287.72 L120.3 287.69 L120.8 287.66 L121.3 287.63 L121.8 287.61 L122.3 287.57 L122.8 287.51 L123.3 287.43 L123.8 287.33 L124.3 287.22 L124.8 287.08 L125.3 286.94 L125.8 286.78 L126.3 286.62 L126.8 286.45 L127.3 286.27 L127.8 286.09 L128.3 285.91 L128.8 285.72 L129.3 285.54 L129.8 285.37 L130.3 285.19 L130.8 284.99 L131.3 284.76 L131.8 284.51 L132.3 284.24 L132.8 283.96 L133.3 283.68 L133.8 283.39 L134.3 283.10 L134.8 282.82 L135.3 282.56 L135.8 282.31 L136.3 282.08 L136.8 281.87 L137.3 281.70 L137.8 281.56 L138.3 281.46 L138.8 281.41 L139.3 281.41 L139.8 281.47 L140.3 281.59 L140.8 281.78 L141.3 282.04 L141.8 282.35 L142.3 282.73 L142.8 283.17 L143.3 283.66 L143.8 284.24 L144.3 285.65 L144.8 287.81 L145.3 290.14 L145.8 292.46 L146.3 295.28 L146.8 297.28 L147.3 296.99 L147.8 294.60 L148.3 291.82 L148.8 289.98 L149.3 288.31 L149.8 286.86 L150.3 285.84 L150.8 285.33 L151.3 284.92 L151.8 284.56 L152.3 284.25 L152.8 283.97 L153.3 283.73 L153.8 283.51 L154.3 283.32 L154.8 283.14 L155.3 282.98 L155.8 282.82 L156.3 282.66 L156.8 282.50 L157.3 282.34 L157.8 282.16 L158.3 281.97 L158.8 281.79 L159.3 281.60 L159.8 281.41 L160.3 281.22 L160.8 281.04 L161.3 280.87 L161.8 280.70 L162.3 280.54 L162.8 280.39 L163.3 280.25 L163.8 280.13 L164.3 280.03 L164.8 279.94 L165.3 279.87 L165.8 279.82 L166.3 279.80 L166.8 279.81 L167.3 279.85 L167.8 279.94 L168.3 280.07 L168.8 280.24 L169.3 280.44 L169.8 280.68 L170.3 280.95 L170.8 281.26 L171.3 281.59 L171.8 281.96 L172.3 282.35 L172.8 282.79 L173.3 283.47 L173.8 284.44 L174.3 285.69 L174.8 287.21 L175.3 289.00 L175.8 291.30 L176.3 295.80 L176.8 301.44 L177.3 306.52 L177.8 309.97 L178.3 313.12 L178.8 315.09 L179.3 314.88 L179.8 312.70 L180.3 309.42 L180.8 304.87 L181.3 297.56 L181.8 292.27 L182.3 288.83 L182.8 285.88 L183.3 283.58 L183.8 282.11 L184.3 281.47 L184.8 280.96 L185.3 280.51 L185.8 280.11 L186.3 279.76 L186.8 279.47 L187.3 279.23 L187.8 279.04 L188.3 278.91 L188.8 278.83 L189.3 278.80 L189.8 278.83 L190.3 278.93 L190.8 279.09 L191.3 279.29 L191.8 279.53 L192.3 279.81 L192.8 280.11 L193.3 280.44 L193.8 280.77 L194.3 281.10 L194.8 281.43 L195.3 281.75 L195.8 282.05 L196.3 282.32 L196.8 282.56 L197.3 282.76 L197.8 282.96 L198.3 283.15 L198.8 283.34 L199.3 283.52 L199.8 283.70 L200.3 283.87 L200.8 284.05 L201.3 284.22 L201.8 284.38 L202.3 284.55 L202.8 284.72 L203.3 284.89 L203.8 285.06 L204.3 285.23 L204.8 285.40 L205.3 285.55 L205.8 285.69 L206.3 285.82 L206.8 285.95 L207.3 286.09 L207.8 286.24 L208.3 286.42 L208.8 286.63 L209.3 286.87 L209.8 287.17 L210.3 287.85 L210.8 288.86 L211.3 289.94 L211.8 290.83 L212.3 291.29 L212.8 291.17 L213.3 290.71 L213.8 289.99 L214.3 289.12 L214.8 288.19 L215.3 287.31 L215.8 286.56 L216.3 286.05 L216.8 285.84 L217.3 285.71 L217.8 285.58 L218.3 285.46 L218.8 285.34 L219.3 285.23 L219.8 285.13 L220.3 285.03 L220.8 284.94 L221.3 284.86 L221.8 284.78 L222.3 284.71 L222.8 284.64 L223.3 284.58 L223.8 284.53 L224.3 284.48 L224.8 284.44 L225.3 284.40 L225.8 284.37 L226.3 284.34 L226.8 284.32 L227.3 284.31 L227.8 284.30 L228.3 284.30 L228.8 284.30 L229.3 284.30 L229.8 284.31 L230.3 284.31 L230.8 284.32 L231.3 284.32 L231.8 284.33 L232.3 284.34 L232.8 284.36 L233.3 284.37 L233.8 284.39 L234.3 284.41 L234.8 284.43 L235.3 284.45 L235.8 284.48 L236.3 284.51 L236.8 284.54 L237.3 284.57 L237.8 284.61 L238.3 284.65 L238.8 284.69 L239.3 284.74 L239.8 284.79 L240.3 284.99 L240.8 285.59 L241.3 286.46 L241.8 287.50 L242.3 288.58 L242.8 289.60 L243.3 290.87 L243.8 292.38 L244.3 293.92 L244.8 295.25 L245.3 296.15 L245.8 296.36 L246.3 295.23 L246.8 292.86 L247.3 289.71 L247.8 286.25 L248.3 282.97 L248.8 280.33 L249.3 278.78 L249.8 277.75 L250.3 276.85 L250.8 276.05 L251.3 275.34 L251.8 274.71 L252.3 274.13 L252.8 273.59 L253.3 273.07 L253.8 272.56 L254.3 272.04 L254.8 271.50 L255.3 270.91 L255.8 270.27 L256.3 269.55 L256.8 268.80 L257.3 268.03 L257.8 267.25 L258.3 266.46 L258.8 265.65 L259.3 264.82 L259.8 263.98 L260.3 263.13 L260.8 262.25 L261.3 261.36 L261.8 260.45 L262.3 259.53 L262.8 258.58 L263.3 257.59 L263.8 256.41 L264.3 255.05 L264.8 253.60 L265.3 252.11 L265.8 250.66 L266.3 249.31 L266.8 248.14 L267.3 247.22 L267.8 246.62 L268.3 246.40 L268.8 246.63 L269.3 247.26 L269.8 248.22 L270.3 249.45 L270.8 251.26 L271.3 254.83 L271.8 259.51 L272.3 264.91 L272.8 272.11 L273.3 280.56 L273.8 289.48 L274.3 298.12 L274.8 305.70 L275.3 312.36 L275.8 318.74 L276.3 324.81 L276.8 330.55 L277.3 335.94 L277.8 341.24 L278.3 347.10 L278.8 352.69 L279.3 357.03 L279.8 359.13 L280.3 357.45 L280.8 351.50 L281.3 343.37 L281.8 333.31 L282.3 318.08 L282.8 304.73 L283.3 297.22 L283.8 290.78 L284.3 285.23 L284.8 280.58 L285.3 276.85 L285.8 274.05 L286.3 271.92 L286.8 269.93 L287.3 268.13 L287.8 266.60 L288.3 265.39 L288.8 264.57 L289.3 264.21 L289.8 264.28 L290.3 264.59 L290.8 265.09 L291.3 265.75 L291.8 266.51 L292.3 267.36 L292.8 268.24 L293.3 269.11 L293.8 269.95 L294.3 270.70 L294.8 271.32 L295.3 271.79 L295.8 272.05 L296.3 272.09 L296.8 271.96 L297.3 271.70 L297.8 271.33 L298.3 270.87 L298.8 270.33 L299.3 269.74 L299.8 269.11 L300.3 268.45 L300.8 267.79 L301.3 267.15 L301.8 266.53 L302.3 265.92 L302.8 265.17 L303.3 264.32 L303.8 263.43 L304.3 262.55 L304.8 261.75 L305.3 261.09 L305.8 260.62 L306.3 260.41 L306.8 260.77 L307.3 262.10 L307.8 264.09 L308.3 267.00 L308.8 272.47 L309.3 279.50 L309.8 288.76 L310.3 300.86 L310.8 314.41 L311.3 328.01 L311.8 340.40 L312.3 353.95 L312.8 368.71 L313.3 382.79 L313.8 394.29 L314.3 401.32 L314.8 401.93 L315.3 395.28 L315.8 383.63 L316.3 369.61 L316.8 355.89 L317.3 344.98 L317.8 335.02 L318.3 325.11 L318.8 316.11 L319.3 308.90 L319.8 304.13 L320.3 300.28 L320.8 296.87 L321.3 293.87 L321.8 291.27 L322.3 289.04 L322.8 287.15 L323.3 285.58 L323.8 284.22 L324.3 282.90 L324.8 281.64 L325.3 280.47 L325.8 279.40 L326.3 278.46 L326.8 277.68 L327.3 277.08 L327.8 276.68 L328.3 276.51 L328.8 276.52 L329.3 276.61 L329.8 276.76 L330.3 276.96 L330.8 277.22 L331.3 277.51 L331.8 277.84 L332.3 278.20 L332.8 278.59 L333.3 279.00 L333.8 279.41 L334.3 279.84 L334.8 280.26 L335.3 280.68 L335.8 281.08 L336.3 281.51 L336.8 281.97 L337.3 282.47 L337.8 283.01 L338.3 283.57 L338.8 284.15 L339.3 284.75 L339.8 285.41 L340.3 286.26 L340.8 287.23 L341.3 288.25 L341.8 289.24 L342.3 290.13 L342.8 290.83 L343.3 291.28 L343.8 291.39 L344.3 291.23 L344.8 290.89 L345.3 290.43 L345.8 289.90 L346.3 289.37 L346.8 288.91 L347.3 288.57 L347.8 288.41 L348.3 288.46 L348.8 288.67 L349.3 288.98 L349.8 289.35 L350.3 289.72 L350.8 290.03 L351.3 290.24 L351.8 290.30 L352.3 290.19 L352.8 289.95 L353.3 289.60 L353.8 289.18 L354.3 288.71 L354.8 288.22 L355.3 287.73 L355.8 287.28 L356.3 286.89 L356.8 286.59 L357.3 286.38 L357.8 286.19 L358.3 285.99 L358.8 285.80 L359.3 285.62 L359.8 285.45 L360.3 285.29 L360.8 285.14 L361.3 285.00 L361.8 284.88 L362.3 284.78 L362.8 284.70 L363.3 284.64 L363.8 284.61 L364.3 284.60 L364.8 284.62 L365.3 284.67 L365.8 284.75 L366.3 284.84 L366.8 284.96 L367.3 285.08 L367.8 285.22 L368.3 285.36 L368.8 285.51 L369.3 285.65 L369.8 285.79 L370.3 285.92 L370.8 286.03 L371.3 286.13 L371.8 286.21 L372.3 286.27 L372.8 286.30 L373.3 286.28 L373.8 286.19 L374.3 286.04 L374.8 285.84 L375.3 285.63 L375.8 285.42 L376.3 285.23 L376.8 285.08 L377.3 285.01 L377.8 285.01 L378.3 285.07 L378.8 285.18 L379.3 285.33 L379.8 285.52 L380.3 285.74 L380.8 285.99 L381.3 286.25 L381.8 286.53 L382.3 286.82 L382.8 287.12 L383.3 287.41 L383.8 287.69 L384.3 287.96 L384.8 288.21 L385.3 288.44 L385.8 288.64 L386.3 288.79 L386.8 288.91 L387.3 288.98 L387.8 289.00 L388.3 288.91 L388.8 288.70 L389.3 288.39 L389.8 288.00 L390.3 287.56 L390.8 287.07 L391.3 286.56 L391.8 286.04 L392.3 285.54 L392.8 285.07 L393.3 284.65 L393.8 284.30 L394.3 284.04 L394.8 283.86 L395.3 283.69 L395.8 283.55 L396.3 283.42 L396.8 283.30 L397.3 283.20 L397.8 283.10 L398.3 283.01 L398.8 282.92 L399.3 282.83 L399.8 282.74 L400.3 282.64 L400.8 282.54 L401.3 282.43 L401.8 282.30 L402.3 282.17 L402.8 282.01 L403.3 281.84 L403.8 281.61 L404.3 281.28 L404.8 280.88 L405.3 280.42 L405.8 279.94 L406.3 279.45 L406.8 279.00 L407.3 278.60 L407.8 278.29 L408.3 278.08 L408.8 278.00 L409.3 278.06 L409.8 278.25 L410.3 278.54 L410.8 278.93 L411.3 279.41 L411.8 279.96 L412.3 280.57 L412.8 281.23 L413.3 281.93 L413.8 282.66 L414.3 283.40 L414.8 284.15 L415.3 284.98 L415.8 285.92 L416.3 286.98 L416.8 288.16 L417.3 289.44 L417.8 290.82 L418.3 292.31 L418.8 293.90 L419.3 295.58 L419.8 297.36 L420.3 299.23 L420.8 301.38 L421.3 304.45 L421.8 308.25 L422.3 312.44 L422.8 316.74 L423.3 320.82 L423.8 324.39 L424.3 327.12 L424.8 328.72 L425.3 328.84 L425.8 327.18 L426.3 324.07 L426.8 319.95 L427.3 315.25 L427.8 310.43 L428.3 305.91 L428.8 302.14 L429.3 299.56 L429.8 298.60 L430.3 299.71 L430.8 302.72 L431.3 307.15 L431.8 312.50 L432.3 318.28 L432.8 324.02 L433.3 329.23 L433.8 333.41 L434.3 336.08 L434.8 336.76 L435.3 335.29 L435.8 332.05 L436.3 327.41 L436.8 321.78 L437.3 315.54 L437.8 309.08 L438.3 302.81 L438.8 297.11 L439.3 292.37 L439.8 288.98 L440.3 286.73 L440.8 284.56 L441.3 282.47 L441.8 280.49 L442.3 278.64 L442.8 276.97 L443.3 275.51 L443.8 274.28 L444.3 273.32 L444.8 272.66 L445.3 272.33 L445.8 272.31 L446.3 272.40 L446.8 272.56 L447.3 272.79 L447.8 273.08 L448.3 273.43 L448.8 273.84 L449.3 274.30 L449.8 274.81 L450.3 275.37 L450.8 275.96 L451.3 276.58 L451.8 277.24 L452.3 277.92 L452.8 278.63 L453.3 279.35 L453.8 280.19 L454.3 281.34 L454.8 282.74 L455.3 284.34 L455.8 286.10 L456.3 287.95 L456.8 289.86 L457.3 291.76 L457.8 293.61 L458.3 295.35 L458.8 296.92 L459.3 298.38 L459.8 299.98 L460.3 301.65 L460.8 303.25 L461.3 304.66 L461.8 305.75 L462.3 306.39 L462.8 306.40 L463.3 305.31 L463.8 303.27 L464.3 300.54 L464.8 297.40 L465.3 294.13 L465.8 290.99 L466.3 288.25 L466.8 286.20 L467.3 284.56 L467.8 282.91 L468.3 281.26 L468.8 279.65 L469.3 278.09 L469.8 276.61 L470.3 275.23 L470.8 273.99 L471.3 272.89 L471.8 271.98 L472.3 271.26 L472.8 270.77 L473.3 270.52 L473.8 270.62 L474.3 271.31 L474.8 272.55 L475.3 274.27 L475.8 276.39 L476.3 278.83 L476.8 281.52 L477.3 284.37 L477.8 287.31 L478.3 290.50 L478.8 294.72 L479.3 299.80 L479.8 305.48 L480.3 311.48 L480.8 317.54 L481.3 323.38 L481.8 329.54 L482.3 336.97 L482.8 344.63 L483.3 351.45 L483.8 356.33 L484.3 358.20 L484.8 356.61 L485.3 352.37 L485.8 346.24 L486.3 338.99 L486.8 331.38 L487.3 324.20 L487.8 318.21 L488.3 313.97 L488.8 310.17 L489.3 306.44 L489.8 302.83 L490.3 299.38 L490.8 296.15 L491.3 293.18 L491.8 290.51 L492.3 288.20 L492.8 286.29 L493.3 284.82 L493.8 283.84 L494.3 283.04 L494.8 282.29 L495.3 281.57 L495.8 280.89 L496.3 280.26 L496.8 279.67 L497.3 279.13 L497.8 278.64 L498.3 278.21 L498.8 277.82 L499.3 277.50 L499.8 277.23 L500.3 277.03 L500.8 276.89 L501.3 276.81 L501.8 276.81 L502.3 276.96 L502.8 277.25 L503.3 277.67 L503.8 278.21 L504.3 278.86 L504.8 279.60 L505.3 280.42 L505.8 281.31 L506.3 282.24 L506.8 283.21 L507.3 284.20 L507.8 285.21 L508.3 286.20 L508.8 287.18 L509.3 288.13 L509.8 289.05 L510.3 290.02 L510.8 291.03 L511.3 292.09 L511.8 293.19 L512.3 294.33 L512.8 295.50 L513.3 296.71 L513.8 297.94 L514.3 299.20 L514.8 300.48" stroke="#f00" stroke-width="1.7" fill="none" stroke-linejoin="round"/><path d="M57.3 479.20 L57.8 479.20 L58.3 479.20 L58.8 479.20 L59.3 479.20 L59.8 479.20 L60.3 479.20 L60.8 479.20 L61.3 479.20 L61.8 479.20 L62.3 479.20 L62.8 479.20 L63.3 479.20 L63.8 479.20 L64.3 479.20 L64.8 479.20 L65.3 479.20 L65.8 479.20 L66.3 479.20 L66.8 479.20 L67.3 479.20 L67.8 479.20 L68.3 479.20 L68.8 479.20 L69.3 479.20 L69.8 479.20 L70.3 479.20 L70.8 479.20 L71.3 479.20 L71.8 479.20 L72.3 479.24 L72.8 479.44 L73.3 479.73 L73.8 480.01 L74.3 480.18 L74.8 480.16 L75.3 479.96 L75.8 479.68 L76.3 479.40 L76.8 479.22 L77.3 479.19 L77.8 479.18 L78.3 479.17 L78.8 479.16 L79.3 479.15 L79.8 479.14 L80.3 479.13 L80.8 479.12 L81.3 479.11 L81.8 479.10 L82.3 479.09 L82.8 479.08 L83.3 479.08 L83.8 479.07 L84.3 479.06 L84.8 479.06 L85.3 479.05 L85.8 479.05 L86.3 479.04 L86.8 479.04 L87.3 479.03 L87.8 479.03 L88.3 479.02 L88.8 479.02 L89.3 479.02 L89.8 479.01 L90.3 479.01 L90.8 479.01 L91.3 479.00 L91.8 479.00 L92.3 479.00 L92.8 479.00 L93.3 479.00 L93.8 478.99 L94.3 478.99 L94.8 478.99 L95.3 478.99 L95.8 478.99 L96.3 478.99 L96.8 478.98 L97.3 478.98 L97.8 478.98 L98.3 478.98 L98.8 478.98 L99.3 478.98 L99.8 478.98 L100.3 478.98 L100.8 478.98 L101.3 478.97 L101.8 478.97 L102.3 478.97 L102.8 478.97 L103.3 478.97 L103.8 478.97 L104.3 478.97 L104.8 478.96 L105.3 478.96 L105.8 478.96 L106.3 478.96 L106.8 478.96 L107.3 478.95 L107.8 478.95 L108.3 478.95 L108.8 478.95 L109.3 478.94 L109.8 478.94 L110.3 478.94 L110.8 478.93 L111.3 478.93 L111.8 478.92 L112.3 478.92 L112.8 478.91 L113.3 478.91 L113.8 478.90 L114.3 478.90 L114.8 478.89 L115.3 478.88 L115.8 478.88 L116.3 478.87 L116.8 478.86 L117.3 478.85 L117.8 478.84 L118.3 478.83 L118.8 478.82 L119.3 478.81 L119.8 478.80 L120.3 478.79 L120.8 478.77 L121.3 478.73 L121.8 478.68 L122.3 478.62 L122.8 478.55 L123.3 478.47 L123.8 478.38 L124.3 478.29 L124.8 478.19 L125.3 478.08 L125.8 477.97 L126.3 477.86 L126.8 477.74 L127.3 477.63 L127.8 477.51 L128.3 477.39 L128.8 477.27 L129.3 477.16 L129.8 477.04 L130.3 476.93 L130.8 476.80 L131.3 476.65 L131.8 476.49 L132.3 476.32 L132.8 476.14 L133.3 475.96 L133.8 475.77 L134.3 475.59 L134.8 475.41 L135.3 475.24 L135.8 475.08 L136.3 474.93 L136.8 474.80 L137.3 474.69 L137.8 474.60 L138.3 474.54 L138.8 474.51 L139.3 474.50 L139.8 474.56 L140.3 474.66 L140.8 474.83 L141.3 475.06 L141.8 475.35 L142.3 475.69 L142.8 476.10 L143.3 476.58 L143.8 477.15 L144.3 478.94 L144.8 481.81 L145.3 484.90 L145.8 487.82 L146.3 491.30 L146.8 493.73 L147.3 493.38 L147.8 490.48 L148.3 487.06 L148.8 484.61 L149.3 482.22 L149.8 480.12 L150.3 478.75 L150.8 478.29 L151.3 477.96 L151.8 477.66 L152.3 477.37 L152.8 477.11 L153.3 476.88 L153.8 476.66 L154.3 476.47 L154.8 476.29 L155.3 476.14 L155.8 476.00 L156.3 475.88 L156.8 475.78 L157.3 475.70 L157.8 475.63 L158.3 475.58 L158.8 475.54 L159.3 475.51 L159.8 475.50 L160.3 475.50 L160.8 475.50 L161.3 475.50 L161.8 475.50 L162.3 475.50 L162.8 475.50 L163.3 475.50 L163.8 475.50 L164.3 475.50 L164.8 475.50 L165.3 475.50 L165.8 475.50 L166.3 475.50 L166.8 475.50 L167.3 475.50 L167.8 475.50 L168.3 475.50 L168.8 475.50 L169.3 475.50 L169.8 475.50 L170.3 475.50 L170.8 475.50 L171.3 475.50 L171.8 475.50 L172.3 475.56 L172.8 475.93 L173.3 476.59 L173.8 477.47 L174.3 478.54 L174.8 480.11 L175.3 483.27 L175.8 487.20 L176.3 490.85 L176.8 493.60 L177.3 496.41 L177.8 499.04 L178.3 501.13 L178.8 502.29 L179.3 501.85 L179.8 499.05 L180.3 495.05 L180.8 491.20 L181.3 488.36 L181.8 485.46 L182.3 482.58 L182.8 479.98 L183.3 477.94 L183.8 476.71 L184.3 476.33 L184.8 476.07 L185.3 475.84 L185.8 475.64 L186.3 475.47 L186.8 475.33 L187.3 475.21 L187.8 475.12 L188.3 475.05 L188.8 475.01 L189.3 475.00 L189.8 475.01 L190.3 475.05 L190.8 475.11 L191.3 475.20 L191.8 475.30 L192.3 475.42 L192.8 475.56 L193.3 475.71 L193.8 475.87 L194.3 476.04 L194.8 476.23 L195.3 476.41 L195.8 476.60 L196.3 476.80 L196.8 476.99 L197.3 477.19 L197.8 477.38 L198.3 477.56 L198.8 477.74 L199.3 477.91 L199.8 478.07 L200.3 478.21 L200.8 478.34 L201.3 478.46 L201.8 478.56 L202.3 478.64 L202.8 478.71 L203.3 478.76 L203.8 478.81 L204.3 478.86 L204.8 478.90 L205.3 478.95 L205.8 478.99 L206.3 479.04 L206.8 479.10 L207.3 479.16 L207.8 479.24 L208.3 479.34 L208.8 479.45 L209.3 479.58 L209.8 479.73 L210.3 480.15 L210.8 481.43 L211.3 482.84 L211.8 483.50 L212.3 483.15 L212.8 482.33 L213.3 481.39 L213.8 480.66 L214.3 480.35 L214.8 480.10 L215.3 479.87 L215.8 479.66 L216.3 479.46 L216.8 479.28 L217.3 479.12 L217.8 478.97 L218.3 478.85 L218.8 478.74 L219.3 478.65 L219.8 478.58 L220.3 478.53 L220.8 478.51 L221.3 478.50 L221.8 478.50 L222.3 478.50 L222.8 478.50 L223.3 478.50 L223.8 478.50 L224.3 478.50 L224.8 478.50 L225.3 478.50 L225.8 478.50 L226.3 478.50 L226.8 478.50 L227.3 478.50 L227.8 478.50 L228.3 478.50 L228.8 478.50 L229.3 478.50 L229.8 478.50 L230.3 478.50 L230.8 478.50 L231.3 478.50 L231.8 478.50 L232.3 478.50 L232.8 478.50 L233.3 478.50 L233.8 478.50 L234.3 478.50 L234.8 478.50 L235.3 478.50 L235.8 478.50 L236.3 478.50 L236.8 478.50 L237.3 478.50 L237.8 478.50 L238.3 478.50 L238.8 478.50 L239.3 478.50 L239.8 478.50 L240.3 478.53 L240.8 478.83 L241.3 479.38 L241.8 480.10 L242.3 480.90 L242.8 481.70 L243.3 482.52 L243.8 483.62 L244.3 484.82 L244.8 485.84 L245.3 486.44 L245.8 486.23 L246.3 484.82 L246.8 482.69 L247.3 480.40 L247.8 478.52 L248.3 477.38 L248.8 476.48 L249.3 475.75 L249.8 475.20 L250.3 474.73 L250.8 474.32 L251.3 473.96 L251.8 473.64 L252.3 473.35 L252.8 473.08 L253.3 472.83 L253.8 472.58 L254.3 472.33 L254.8 472.08 L255.3 471.80 L255.8 471.51 L256.3 471.17 L256.8 470.80 L257.3 470.38 L257.8 469.90 L258.3 469.28 L258.8 468.53 L259.3 467.67 L259.8 466.72 L260.3 465.72 L260.8 464.70 L261.3 463.68 L261.8 462.69 L262.3 461.77 L262.8 460.94 L263.3 460.21 L263.8 459.46 L264.3 458.67 L264.8 457.90 L265.3 457.18 L265.8 456.56 L266.3 456.08 L266.8 455.78 L267.3 455.74 L267.8 456.91 L268.3 459.32 L268.8 462.41 L269.3 465.67 L269.8 469.88 L270.3 475.07 L270.8 480.62 L271.3 485.93 L271.8 491.22 L272.3 496.70 L272.8 502.26 L273.3 507.80 L273.8 513.20 L274.3 518.37 L274.8 523.19 L275.3 527.74 L275.8 532.59 L276.3 537.62 L276.8 542.66 L277.3 547.49 L277.8 551.93 L278.3 555.78 L278.8 558.85 L279.3 560.95 L279.8 561.87 L280.3 559.28 L280.8 550.19 L281.3 537.34 L281.8 523.60 L282.3 511.86 L282.8 502.63 L283.3 492.88 L283.8 483.37 L284.3 474.99 L284.8 468.65 L285.3 465.25 L285.8 464.36 L286.3 463.71 L286.8 463.25 L287.3 463.02 L287.8 463.05 L288.3 463.30 L288.8 463.73 L289.3 464.27 L289.8 464.86 L290.3 465.45 L290.8 465.97 L291.3 466.37 L291.8 466.58 L292.3 466.60 L292.8 466.57 L293.3 466.52 L293.8 466.44 L294.3 466.35 L294.8 466.23 L295.3 466.10 L295.8 465.94 L296.3 465.78 L296.8 465.59 L297.3 465.40 L297.8 465.19 L298.3 464.93 L298.8 464.52 L299.3 463.97 L299.8 463.31 L300.3 462.58 L300.8 461.81 L301.3 461.03 L301.8 460.28 L302.3 459.55 L302.8 458.67 L303.3 457.69 L303.8 456.67 L304.3 455.67 L304.8 454.75 L305.3 453.98 L305.8 453.42 L306.3 453.13 L306.8 453.64 L307.3 456.38 L307.8 460.35 L308.3 464.77 L308.8 470.69 L309.3 477.87 L309.8 485.87 L310.3 494.59 L310.8 504.91 L311.3 516.39 L311.8 528.41 L312.3 540.37 L312.8 552.57 L313.3 567.35 L313.8 582.72 L314.3 596.23 L314.8 605.41 L315.3 607.86 L315.8 603.52 L316.3 594.34 L316.8 582.05 L317.3 568.38 L317.8 555.07 L318.3 543.83 L318.8 535.57 L319.3 527.90 L319.8 520.59 L320.3 513.70 L320.8 507.33 L321.3 501.54 L321.8 496.42 L322.3 492.00 L322.8 487.94 L323.3 484.19 L323.8 480.81 L324.3 477.84 L324.8 475.35 L325.3 473.33 L325.8 471.41 L326.3 469.57 L326.8 467.88 L327.3 466.45 L327.8 465.35 L328.3 464.68 L328.8 464.50 L329.3 464.60 L329.8 464.83 L330.3 465.18 L330.8 465.63 L331.3 466.17 L331.8 466.78 L332.3 467.45 L332.8 468.17 L333.3 468.91 L333.8 469.68 L334.3 470.44 L334.8 471.19 L335.3 471.92 L335.8 472.61 L336.3 473.24 L336.8 473.80 L337.3 474.29 L337.8 474.79 L338.3 475.31 L338.8 475.84 L339.3 476.38 L339.8 476.92 L340.3 477.44 L340.8 477.95 L341.3 478.42 L341.8 478.86 L342.3 479.25 L342.8 479.58 L343.3 479.85 L343.8 480.05 L344.3 480.17 L344.8 480.20 L345.3 480.19 L345.8 480.15 L346.3 480.11 L346.8 480.04 L347.3 479.97 L347.8 479.88 L348.3 479.79 L348.8 479.69 L349.3 479.58 L349.8 479.47 L350.3 479.36 L350.8 479.25 L351.3 479.14 L351.8 479.04 L352.3 478.94 L352.8 478.83 L353.3 478.72 L353.8 478.60 L354.3 478.47 L354.8 478.34 L355.3 478.21 L355.8 478.07 L356.3 477.94 L356.8 477.81 L357.3 477.68 L357.8 477.56 L358.3 477.44 L358.8 477.33 L359.3 477.23 L359.8 477.13 L360.3 477.05 L360.8 476.96 L361.3 476.87 L361.8 476.79 L362.3 476.73 L362.8 476.70 L363.3 476.70 L363.8 476.71 L364.3 476.71 L364.8 476.73 L365.3 476.74 L365.8 476.76 L366.3 476.78 L366.8 476.81 L367.3 476.84 L367.8 476.87 L368.3 476.91 L368.8 476.95 L369.3 476.99 L369.8 477.03 L370.3 477.07 L370.8 477.12 L371.3 477.17 L371.8 477.22 L372.3 477.27 L372.8 477.33 L373.3 477.38 L373.8 477.44 L374.3 477.50 L374.8 477.56 L375.3 477.62 L375.8 477.68 L376.3 477.74 L376.8 477.83 L377.3 477.93 L377.8 478.06 L378.3 478.20 L378.8 478.36 L379.3 478.53 L379.8 478.71 L380.3 478.90 L380.8 479.09 L381.3 479.29 L381.8 479.49 L382.3 479.69 L382.8 479.89 L383.3 480.08 L383.8 480.27 L384.3 480.45 L384.8 480.61 L385.3 480.77 L385.8 480.90 L386.3 481.03 L386.8 481.13 L387.3 481.21 L387.8 481.26 L388.3 481.29 L388.8 481.29 L389.3 481.21 L389.8 481.06 L390.3 480.85 L390.8 480.60 L391.3 480.32 L391.8 480.02 L392.3 479.73 L392.8 479.45 L393.3 479.20 L393.8 479.00 L394.3 478.86 L394.8 478.80 L395.3 478.80 L395.8 478.80 L396.3 478.81 L396.8 478.82 L397.3 478.83 L397.8 478.84 L398.3 478.86 L398.8 478.88 L399.3 478.90 L399.8 478.93 L400.3 478.96 L400.8 478.99 L401.3 479.03 L401.8 479.06 L402.3 479.11 L402.8 479.16 L403.3 479.21 L403.8 479.26 L404.3 479.32 L404.8 479.38 L405.3 479.45 L405.8 479.52 L406.3 479.60 L406.8 479.68 L407.3 479.76 L407.8 479.91 L408.3 480.32 L408.8 480.97 L409.3 481.81 L409.8 482.81 L410.3 483.92 L410.8 485.09 L411.3 486.27 L411.8 487.44 L412.3 488.96 L412.8 490.88 L413.3 493.02 L413.8 495.20 L414.3 497.24 L414.8 498.98 L415.3 500.21 L415.8 500.78 L416.3 500.68 L416.8 500.23 L417.3 499.56 L417.8 498.74 L418.3 497.89 L418.8 497.09 L419.3 496.46 L419.8 496.07 L420.3 496.11 L420.8 497.29 L421.3 499.47 L421.8 502.36 L422.3 505.63 L422.8 508.96 L423.3 512.04 L423.8 514.54 L424.3 516.16 L424.8 516.58 L425.3 515.79 L425.8 514.08 L426.3 511.70 L426.8 508.91 L427.3 505.97 L427.8 503.13 L428.3 500.65 L428.8 498.79 L429.3 497.80 L429.8 497.90 L430.3 499.06 L430.8 501.04 L431.3 503.62 L431.8 506.57 L432.3 509.69 L432.8 512.73 L433.3 515.49 L433.8 517.74 L434.3 519.25 L434.8 519.80 L435.3 518.82 L435.8 516.15 L436.3 512.17 L436.8 507.27 L437.3 501.84 L437.8 496.28 L438.3 490.96 L438.8 486.29 L439.3 482.64 L439.8 480.41 L440.3 479.62 L440.8 479.03 L441.3 478.47 L441.8 477.95 L442.3 477.47 L442.8 477.03 L443.3 476.62 L443.8 476.26 L444.3 475.94 L444.8 475.65 L445.3 475.41 L445.8 475.20 L446.3 475.04 L446.8 474.92 L447.3 474.84 L447.8 474.80 L448.3 474.81 L448.8 474.90 L449.3 475.06 L449.8 475.28 L450.3 475.56 L450.8 475.90 L451.3 476.28 L451.8 476.70 L452.3 477.16 L452.8 477.65 L453.3 478.16 L453.8 478.69 L454.3 479.29 L454.8 480.23 L455.3 481.50 L455.8 483.04 L456.3 484.81 L456.8 486.76 L457.3 488.85 L457.8 491.02 L458.3 493.25 L458.8 495.47 L459.3 497.65 L459.8 499.73 L460.3 501.67 L460.8 503.42 L461.3 504.95 L461.8 506.19 L462.3 507.11 L462.8 507.66 L463.3 507.78 L463.8 507.01 L464.3 505.31 L464.8 502.89 L465.3 499.95 L465.8 496.70 L466.3 493.34 L466.8 490.08 L467.3 487.12 L467.8 484.67 L468.3 482.94 L468.8 481.96 L469.3 481.07 L469.8 480.23 L470.3 479.44 L470.8 478.70 L471.3 478.02 L471.8 477.42 L472.3 476.91 L472.8 476.48 L473.3 476.14 L473.8 475.92 L474.3 475.81 L474.8 475.93 L475.3 476.70 L475.8 478.07 L476.3 479.96 L476.8 482.26 L477.3 484.91 L477.8 487.79 L478.3 490.83 L478.8 493.93 L479.3 497.00 L479.8 500.82 L480.3 505.96 L480.8 511.98 L481.3 518.46 L481.8 524.96 L482.3 531.07 L482.8 536.34 L483.3 540.36 L483.8 542.69 L484.3 542.98 L484.8 541.74 L485.3 539.31 L485.8 535.90 L486.3 531.72 L486.8 526.98 L487.3 521.90 L487.8 516.69 L488.3 511.56 L488.8 506.72 L489.3 502.38 L489.8 498.75 L490.3 495.95 L490.8 493.32 L491.3 490.70 L491.8 488.16 L492.3 485.76 L492.8 483.56 L493.3 481.60 L493.8 479.96 L494.3 478.67 L494.8 477.82 L495.3 477.29 L495.8 476.79 L496.3 476.34 L496.8 475.91 L497.3 475.53 L497.8 475.19 L498.3 474.89 L498.8 474.63 L499.3 474.42 L499.8 474.26 L500.3 474.16 L500.8 474.10 L501.3 474.11 L501.8 474.19 L502.3 474.34 L502.8 474.54 L503.3 474.79 L503.8 475.10 L504.3 475.44 L504.8 475.83 L505.3 476.24 L505.8 476.67 L506.3 477.12 L506.8 477.59 L507.3 478.06 L507.8 478.53 L508.3 478.99 L508.8 479.49 L509.3 480.04 L509.8 480.64 L510.3 481.28 L510.8 481.96 L511.3 482.68 L511.8 483.44 L512.3 484.24 L512.8 485.06 L513.3 485.92 L513.8 486.80 L514.3 487.70 L514.8 488.62" stroke="#00f" stroke-width="1.25" fill="none" stroke-linejoin="round"/><path d="M57.3 478.90 L57.8 478.90 L58.3 478.90 L58.8 478.90 L59.3 478.90 L59.8 478.90 L60.3 478.90 L60.8 478.90 L61.3 478.90 L61.8 478.90 L62.3 478.90 L62.8 478.90 L63.3 478.90 L63.8 478.90 L64.3 478.90 L64.8 478.90 L65.3 478.90 L65.8 478.90 L66.3 478.90 L66.8 478.90 L67.3 478.90 L67.8 478.90 L68.3 478.90 L68.8 478.90 L69.3 478.90 L69.8 478.90 L70.3 478.90 L70.8 478.90 L71.3 478.90 L71.8 478.90 L72.3 478.94 L72.8 479.14 L73.3 479.43 L73.8 479.71 L74.3 479.88 L74.8 479.86 L75.3 479.66 L75.8 479.38 L76.3 479.10 L76.8 478.92 L77.3 478.89 L77.8 478.88 L78.3 478.87 L78.8 478.86 L79.3 478.85 L79.8 478.84 L80.3 478.83 L80.8 478.82 L81.3 478.81 L81.8 478.80 L82.3 478.79 L82.8 478.78 L83.3 478.78 L83.8 478.77 L84.3 478.76 L84.8 478.76 L85.3 478.75 L85.8 478.75 L86.3 478.74 L86.8 478.74 L87.3 478.73 L87.8 478.73 L88.3 478.72 L88.8 478.72 L89.3 478.72 L89.8 478.71 L90.3 478.71 L90.8 478.71 L91.3 478.70 L91.8 478.70 L92.3 478.70 L92.8 478.70 L93.3 478.70 L93.8 478.69 L94.3 478.69 L94.8 478.69 L95.3 478.69 L95.8 478.69 L96.3 478.69 L96.8 478.69 L97.3 478.68 L97.8 478.68 L98.3 478.68 L98.8 478.68 L99.3 478.68 L99.8 478.68 L100.3 478.68 L100.8 478.68 L101.3 478.68 L101.8 478.67 L102.3 478.67 L102.8 478.67 L103.3 478.67 L103.8 478.67 L104.3 478.67 L104.8 478.67 L105.3 478.66 L105.8 478.66 L106.3 478.66 L106.8 478.66 L107.3 478.66 L107.8 478.65 L108.3 478.65 L108.8 478.65 L109.3 478.64 L109.8 478.64 L110.3 478.64 L110.8 478.63 L111.3 478.63 L111.8 478.62 L112.3 478.62 L112.8 478.61 L113.3 478.61 L113.8 478.60 L114.3 478.60 L114.8 478.59 L115.3 478.58 L115.8 478.58 L116.3 478.57 L116.8 478.56 L117.3 478.55 L117.8 478.54 L118.3 478.53 L118.8 478.52 L119.3 478.51 L119.8 478.50 L120.3 478.49 L120.8 478.46 L121.3 478.42 L121.8 478.37 L122.3 478.30 L122.8 478.23 L123.3 478.14 L123.8 478.04 L124.3 477.94 L124.8 477.83 L125.3 477.71 L125.8 477.59 L126.3 477.47 L126.8 477.34 L127.3 477.21 L127.8 477.07 L128.3 476.94 L128.8 476.81 L129.3 476.68 L129.8 476.55 L130.3 476.42 L130.8 476.27 L131.3 476.10 L131.8 475.90 L132.3 475.70 L132.8 475.49 L133.3 475.27 L133.8 475.05 L134.3 474.82 L134.8 474.61 L135.3 474.40 L135.8 474.21 L136.3 474.03 L136.8 473.87 L137.3 473.73 L137.8 473.63 L138.3 473.55 L138.8 473.51 L139.3 473.50 L139.8 473.55 L140.3 473.65 L140.8 473.80 L141.3 474.01 L141.8 474.26 L142.3 474.57 L142.8 474.93 L143.3 475.34 L143.8 475.82 L144.3 477.06 L144.8 479.01 L145.3 481.18 L145.8 483.45 L146.3 486.37 L146.8 488.47 L147.3 488.17 L147.8 485.70 L148.3 482.84 L148.8 480.94 L149.3 479.19 L149.8 477.68 L150.3 476.69 L150.8 476.32 L151.3 476.04 L151.8 475.77 L152.3 475.51 L152.8 475.26 L153.3 475.03 L153.8 474.81 L154.3 474.60 L154.8 474.40 L155.3 474.21 L155.8 474.03 L156.3 473.87 L156.8 473.71 L157.3 473.56 L157.8 473.43 L158.3 473.30 L158.8 473.19 L159.3 473.08 L159.8 472.98 L160.3 472.89 L160.8 472.81 L161.3 472.74 L161.8 472.67 L162.3 472.61 L162.8 472.56 L163.3 472.52 L163.8 472.48 L164.3 472.46 L164.8 472.43 L165.3 472.42 L165.8 472.41 L166.3 472.40 L166.8 472.40 L167.3 472.42 L167.8 472.45 L168.3 472.50 L168.8 472.57 L169.3 472.65 L169.8 472.76 L170.3 472.89 L170.8 473.04 L171.3 473.21 L171.8 473.41 L172.3 473.64 L172.8 473.90 L173.3 474.18 L173.8 474.50 L174.3 475.03 L174.8 477.21 L175.3 480.49 L175.8 483.86 L176.3 486.69 L176.8 489.88 L177.3 493.19 L177.8 496.22 L178.3 498.58 L178.8 499.87 L179.3 499.42 L179.8 496.46 L180.3 492.25 L180.8 488.24 L181.3 485.34 L181.8 482.45 L182.3 479.62 L182.8 477.07 L183.3 475.04 L183.8 473.75 L184.3 473.25 L184.8 472.86 L185.3 472.52 L185.8 472.21 L186.3 471.95 L186.8 471.72 L187.3 471.53 L187.8 471.39 L188.3 471.28 L188.8 471.22 L189.3 471.20 L189.8 471.22 L190.3 471.29 L190.8 471.40 L191.3 471.54 L191.8 471.72 L192.3 471.92 L192.8 472.15 L193.3 472.40 L193.8 472.68 L194.3 472.96 L194.8 473.26 L195.3 473.56 L195.8 473.87 L196.3 474.18 L196.8 474.48 L197.3 474.78 L197.8 475.07 L198.3 475.34 L198.8 475.59 L199.3 475.82 L199.8 476.03 L200.3 476.21 L200.8 476.36 L201.3 476.47 L201.8 476.54 L202.3 476.60 L202.8 476.65 L203.3 476.69 L203.8 476.72 L204.3 476.75 L204.8 476.78 L205.3 476.80 L205.8 476.82 L206.3 476.85 L206.8 476.88 L207.3 476.92 L207.8 476.96 L208.3 477.01 L208.8 477.08 L209.3 477.16 L209.8 477.26 L210.3 477.61 L210.8 478.81 L211.3 480.16 L211.8 480.80 L212.3 480.46 L212.8 479.67 L213.3 478.78 L213.8 478.12 L214.3 477.90 L214.8 477.74 L215.3 477.60 L215.8 477.47 L216.3 477.35 L216.8 477.24 L217.3 477.14 L217.8 477.06 L218.3 476.99 L218.8 476.93 L219.3 476.88 L219.8 476.84 L220.3 476.82 L220.8 476.80 L221.3 476.80 L221.8 476.80 L222.3 476.80 L222.8 476.80 L223.3 476.80 L223.8 476.80 L224.3 476.80 L224.8 476.80 L225.3 476.80 L225.8 476.80 L226.3 476.80 L226.8 476.80 L227.3 476.80 L227.8 476.80 L228.3 476.80 L228.8 476.80 L229.3 476.80 L229.8 476.80 L230.3 476.80 L230.8 476.80 L231.3 476.80 L231.8 476.80 L232.3 476.80 L232.8 476.80 L233.3 476.80 L233.8 476.80 L234.3 476.80 L234.8 476.80 L235.3 476.80 L235.8 476.80 L236.3 476.80 L236.8 476.80 L237.3 476.80 L237.8 476.80 L238.3 476.80 L238.8 476.80 L239.3 476.80 L239.8 476.80 L240.3 476.83 L240.8 477.09 L241.3 477.58 L241.8 478.22 L242.3 478.96 L242.8 479.71 L243.3 480.53 L243.8 481.71 L244.3 483.02 L244.8 484.16 L245.3 484.83 L245.8 484.62 L246.3 483.13 L246.8 480.89 L247.3 478.49 L247.8 476.53 L248.3 475.38 L248.8 474.46 L249.3 473.66 L249.8 472.94 L250.3 472.28 L250.8 471.65 L251.3 471.03 L251.8 470.44 L252.3 469.88 L252.8 469.35 L253.3 468.85 L253.8 468.36 L254.3 467.89 L254.8 467.43 L255.3 466.97 L255.8 466.51 L256.3 466.04 L256.8 465.57 L257.3 465.07 L257.8 464.56 L258.3 464.01 L258.8 463.44 L259.3 462.83 L259.8 462.19 L260.3 461.52 L260.8 460.82 L261.3 460.11 L261.8 459.37 L262.3 458.62 L262.8 457.86 L263.3 457.09 L263.8 456.31 L264.3 455.50 L264.8 454.55 L265.3 453.49 L265.8 452.37 L266.3 451.24 L266.8 450.15 L267.3 449.15 L267.8 448.28 L268.3 447.60 L268.8 447.16 L269.3 447.00 L269.8 448.04 L270.3 450.58 L270.8 453.75 L271.3 457.03 L271.8 461.15 L272.3 465.77 L272.8 470.52 L273.3 475.72 L273.8 481.31 L274.3 487.07 L274.8 492.78 L275.3 498.23 L275.8 503.19 L276.3 507.71 L276.8 512.52 L277.3 517.43 L277.8 522.16 L278.3 526.42 L278.8 529.92 L279.3 532.37 L279.8 533.47 L280.3 531.96 L280.8 526.46 L281.3 518.29 L281.8 508.83 L282.3 499.48 L282.8 491.62 L283.3 485.93 L283.8 480.49 L284.3 475.48 L284.8 471.32 L285.3 468.47 L285.8 466.79 L286.3 465.28 L286.8 463.91 L287.3 462.71 L287.8 461.71 L288.3 460.91 L288.8 460.36 L289.3 460.05 L289.8 460.02 L290.3 460.22 L290.8 460.60 L291.3 461.14 L291.8 461.80 L292.3 462.55 L292.8 463.34 L293.3 464.16 L293.8 464.95 L294.3 465.70 L294.8 466.36 L295.3 466.90 L295.8 467.28 L296.3 467.48 L296.8 467.48 L297.3 467.34 L297.8 467.09 L298.3 466.75 L298.8 466.32 L299.3 465.83 L299.8 465.30 L300.3 464.73 L300.8 464.14 L301.3 463.55 L301.8 462.97 L302.3 462.41 L302.8 461.88 L303.3 461.24 L303.8 460.50 L304.3 459.73 L304.8 459.00 L305.3 458.36 L305.8 457.88 L306.3 457.62 L306.8 458.03 L307.3 460.26 L307.8 463.58 L308.3 467.64 L308.8 473.87 L309.3 481.44 L309.8 489.25 L310.3 496.57 L310.8 504.16 L311.3 511.92 L311.8 519.65 L312.3 527.13 L312.8 534.59 L313.3 543.20 L313.8 551.90 L314.3 559.42 L314.8 564.48 L315.3 565.79 L315.8 562.46 L316.3 555.71 L316.8 547.24 L317.3 538.72 L317.8 531.56 L318.3 524.19 L318.8 516.51 L319.3 508.98 L319.8 502.11 L320.3 496.39 L320.8 492.15 L321.3 488.51 L321.8 485.23 L322.3 482.35 L322.8 479.93 L323.3 478.00 L323.8 476.57 L324.3 475.29 L324.8 474.07 L325.3 472.95 L325.8 471.95 L326.3 471.09 L326.8 470.41 L327.3 469.92 L327.8 469.65 L328.3 469.61 L328.8 469.70 L329.3 469.89 L329.8 470.16 L330.3 470.49 L330.8 470.89 L331.3 471.34 L331.8 471.83 L332.3 472.34 L332.8 472.87 L333.3 473.40 L333.8 473.93 L334.3 474.44 L334.8 474.92 L335.3 475.36 L335.8 475.76 L336.3 476.18 L336.8 476.63 L337.3 477.10 L337.8 477.59 L338.3 478.09 L338.8 478.58 L339.3 479.06 L339.8 479.53 L340.3 479.98 L340.8 480.38 L341.3 480.75 L341.8 481.07 L342.3 481.34 L342.8 481.53 L343.3 481.66 L343.8 481.70 L344.3 481.69 L344.8 481.65 L345.3 481.58 L345.8 481.50 L346.3 481.39 L346.8 481.27 L347.3 481.14 L347.8 480.99 L348.3 480.83 L348.8 480.67 L349.3 480.49 L349.8 480.32 L350.3 480.14 L350.8 479.97 L351.3 479.79 L351.8 479.63 L352.3 479.47 L352.8 479.29 L353.3 479.10 L353.8 478.88 L354.3 478.65 L354.8 478.42 L355.3 478.17 L355.8 477.93 L356.3 477.69 L356.8 477.46 L357.3 477.25 L357.8 477.05 L358.3 476.87 L358.8 476.72 L359.3 476.60 L359.8 476.52 L360.3 476.47 L360.8 476.43 L361.3 476.39 L361.8 476.35 L362.3 476.33 L362.8 476.31 L363.3 476.30 L363.8 476.30 L364.3 476.32 L364.8 476.35 L365.3 476.38 L365.8 476.43 L366.3 476.48 L366.8 476.54 L367.3 476.60 L367.8 476.66 L368.3 476.73 L368.8 476.79 L369.3 476.85 L369.8 476.91 L370.3 476.96 L370.8 477.01 L371.3 477.05 L371.8 477.07 L372.3 477.09 L372.8 477.10 L373.3 477.08 L373.8 477.03 L374.3 476.94 L374.8 476.84 L375.3 476.73 L375.8 476.62 L376.3 476.51 L376.8 476.42 L377.3 476.35 L377.8 476.31 L378.3 476.31 L378.8 476.37 L379.3 476.51 L379.8 476.70 L380.3 476.93 L380.8 477.20 L381.3 477.48 L381.8 477.78 L382.3 478.08 L382.8 478.36 L383.3 478.62 L383.8 478.84 L384.3 479.02 L384.8 479.14 L385.3 479.20 L385.8 479.17 L386.3 479.03 L386.8 478.82 L387.3 478.54 L387.8 478.21 L388.3 477.84 L388.8 477.45 L389.3 477.05 L389.8 476.67 L390.3 476.32 L390.8 476.00 L391.3 475.75 L391.8 475.57 L392.3 475.42 L392.8 475.29 L393.3 475.16 L393.8 475.05 L394.3 474.94 L394.8 474.84 L395.3 474.74 L395.8 474.65 L396.3 474.56 L396.8 474.48 L397.3 474.40 L397.8 474.32 L398.3 474.24 L398.8 474.16 L399.3 474.07 L399.8 473.99 L400.3 473.90 L400.8 473.80 L401.3 473.70 L401.8 473.59 L402.3 473.48 L402.8 473.34 L403.3 473.19 L403.8 473.01 L404.3 472.83 L404.8 472.65 L405.3 472.46 L405.8 472.27 L406.3 472.09 L406.8 471.92 L407.3 471.77 L407.8 471.63 L408.3 471.53 L408.8 471.45 L409.3 471.41 L409.8 471.41 L410.3 471.48 L410.8 471.64 L411.3 471.86 L411.8 472.15 L412.3 472.51 L412.8 472.92 L413.3 473.37 L413.8 473.87 L414.3 474.41 L414.8 474.97 L415.3 475.57 L415.8 476.18 L416.3 476.87 L416.8 477.76 L417.3 478.84 L417.8 480.07 L418.3 481.45 L418.8 482.94 L419.3 484.53 L419.8 486.18 L420.3 487.96 L420.8 490.42 L421.3 493.46 L421.8 496.79 L422.3 500.15 L422.8 503.25 L423.3 505.82 L423.8 507.56 L424.3 508.20 L424.8 507.64 L425.3 506.13 L425.8 503.89 L426.3 501.14 L426.8 498.12 L427.3 495.05 L427.8 492.17 L428.3 489.69 L428.8 487.86 L429.3 486.89 L429.8 487.04 L430.3 488.41 L430.8 490.76 L431.3 493.81 L431.8 497.32 L432.3 501.01 L432.8 504.62 L433.3 507.89 L433.8 510.55 L434.3 512.34 L434.8 513.00 L435.3 512.16 L435.8 509.87 L436.3 506.46 L436.8 502.28 L437.3 497.64 L437.8 492.90 L438.3 488.38 L438.8 484.42 L439.3 481.36 L439.8 479.42 L440.3 477.75 L440.8 476.12 L441.3 474.56 L441.8 473.08 L442.3 471.71 L442.8 470.47 L443.3 469.39 L443.8 468.47 L444.3 467.74 L444.8 467.23 L445.3 466.95 L445.8 466.91 L446.3 466.98 L446.8 467.12 L447.3 467.33 L447.8 467.60 L448.3 467.93 L448.8 468.32 L449.3 468.75 L449.8 469.22 L450.3 469.73 L450.8 470.26 L451.3 470.83 L451.8 471.41 L452.3 472.01 L452.8 472.62 L453.3 473.24 L453.8 473.86 L454.3 474.51 L454.8 475.35 L455.3 476.38 L455.8 477.56 L456.3 478.85 L456.8 480.24 L457.3 481.67 L457.8 483.14 L458.3 484.59 L458.8 486.01 L459.3 487.35 L459.8 488.60 L460.3 489.71 L460.8 490.65 L461.3 491.40 L461.8 491.92 L462.3 492.18 L462.8 492.00 L463.3 490.88 L463.8 488.96 L464.3 486.46 L464.8 483.60 L465.3 480.61 L465.8 477.71 L466.3 475.11 L466.8 473.03 L467.3 471.70 L467.8 470.83 L468.3 469.99 L468.8 469.19 L469.3 468.44 L469.8 467.75 L470.3 467.12 L470.8 466.57 L471.3 466.10 L471.8 465.72 L472.3 465.44 L472.8 465.26 L473.3 465.20 L473.8 465.43 L474.3 466.09 L474.8 467.15 L475.3 468.55 L475.8 470.26 L476.3 472.23 L476.8 474.43 L477.3 476.81 L477.8 479.33 L478.3 481.94 L478.8 484.61 L479.3 487.30 L479.8 490.80 L480.3 495.65 L480.8 501.42 L481.3 507.69 L481.8 514.02 L482.3 519.98 L482.8 525.15 L483.3 529.10 L483.8 531.39 L484.3 531.70 L484.8 530.65 L485.3 528.59 L485.8 525.70 L486.3 522.16 L486.8 518.14 L487.3 513.81 L487.8 509.35 L488.3 504.94 L488.8 500.76 L489.3 496.98 L489.8 493.77 L490.3 491.24 L490.8 488.82 L491.3 486.38 L491.8 484.01 L492.3 481.74 L492.8 479.65 L493.3 477.79 L493.8 476.23 L494.3 475.01 L494.8 474.21 L495.3 473.72 L495.8 473.27 L496.3 472.85 L496.8 472.46 L497.3 472.10 L497.8 471.77 L498.3 471.48 L498.8 471.22 L499.3 471.00 L499.8 470.81 L500.3 470.67 L500.8 470.57 L501.3 470.51 L501.8 470.50 L502.3 470.58 L502.8 470.77 L503.3 471.06 L503.8 471.43 L504.3 471.87 L504.8 472.37 L505.3 472.92 L505.8 473.51 L506.3 474.13 L506.8 474.76 L507.3 475.39 L507.8 476.01 L508.3 476.62 L508.8 477.25 L509.3 477.92 L509.8 478.63 L510.3 479.37 L510.8 480.16 L511.3 480.98 L511.8 481.84 L512.3 482.73 L512.8 483.64 L513.3 484.59 L513.8 485.56 L514.3 486.56 L514.8 487.58" stroke="#f00" stroke-width="1.7" fill="none" stroke-linejoin="round"/><path d="M57.6 209.25H62.1M514.4 209.25H509.9M57.6 198.83H62.1M514.4 198.83H509.9M57.6 188.40H66.1M514.4 188.40H505.9M57.6 177.98H62.1M514.4 177.98H509.9M57.6 167.55H62.1M514.4 167.55H509.9M57.6 157.12H62.1M514.4 157.12H509.9M57.6 146.70H66.1M514.4 146.70H505.9M57.6 136.28H62.1M514.4 136.28H509.9M57.6 125.85H62.1M514.4 125.85H509.9M57.6 115.43H62.1M514.4 115.43H509.9M57.6 105.00H66.1M514.4 105.00H505.9M57.6 94.58H62.1M514.4 94.58H509.9M57.6 84.15H62.1M514.4 84.15H509.9M57.6 73.73H62.1M514.4 73.73H509.9M57.6 63.30H66.1M514.4 63.30H505.9M57.6 52.88H62.1M514.4 52.88H509.9M57.6 42.45H62.1M514.4 42.45H509.9M57.6 32.03H62.1M514.4 32.03H509.9M57.6 21.60H66.1M514.4 21.60H505.9M57.6 11.18H62.1M514.4 11.18H509.9M57.6 0.75H62.1M514.4 0.75H509.9" stroke="#000" stroke-width="1.1" fill="none"/><path d="M57.6 418.36H62.1M514.4 418.36H509.9M57.6 405.30H62.1M514.4 405.30H509.9M57.6 392.24H66.1M514.4 392.24H505.9M57.6 379.18H62.1M514.4 379.18H509.9M57.6 366.12H62.1M514.4 366.12H509.9M57.6 353.06H62.1M514.4 353.06H509.9M57.6 340.00H66.1M514.4 340.00H505.9M57.6 326.94H62.1M514.4 326.94H509.9M57.6 313.88H62.1M514.4 313.88H509.9M57.6 300.82H62.1M514.4 300.82H509.9M57.6 287.76H66.1M514.4 287.76H505.9M57.6 274.70H62.1M514.4 274.70H509.9M57.6 261.64H62.1M514.4 261.64H509.9M57.6 248.58H62.1M514.4 248.58H509.9M57.6 235.52H66.1M514.4 235.52H505.9M57.6 222.46H62.1M514.4 222.46H509.9M57.6 209.40H62.1M514.4 209.40H509.9" stroke="#000" stroke-width="1.1" fill="none"/><path d="M57.6 618.95H62.1M514.4 618.95H509.9M57.6 608.91H62.1M514.4 608.91H509.9M57.6 598.88H66.1M514.4 598.88H505.9M57.6 588.84H62.1M514.4 588.84H509.9M57.6 578.80H62.1M514.4 578.80H509.9M57.6 568.76H62.1M514.4 568.76H509.9M57.6 558.73H66.1M514.4 558.73H505.9M57.6 548.69H62.1M514.4 548.69H509.9M57.6 538.65H62.1M514.4 538.65H509.9M57.6 528.61H62.1M514.4 528.61H509.9M57.6 518.58H66.1M514.4 518.58H505.9M57.6 508.54H62.1M514.4 508.54H509.9M57.6 498.50H62.1M514.4 498.50H509.9M57.6 488.46H62.1M514.4 488.46H509.9M57.6 478.43H66.1M514.4 478.43H505.9M57.6 468.39H62.1M514.4 468.39H509.9M57.6 458.35H62.1M514.4 458.35H509.9M57.6 448.31H62.1M514.4 448.31H509.9M57.6 438.27H66.1M514.4 438.27H505.9M57.6 428.24H62.1M514.4 428.24H509.9M57.6 418.20H62.1M514.4 418.20H509.9" stroke="#000" stroke-width="1.1" fill="none"/><path d="M57.30 0V10M57.30 199.3V219.3M57.30 408.1V428.1M57.30 608.8V618.8M70.38 0V5M70.38 204.3V214.3M70.38 413.1V423.1M70.38 613.8V618.8M83.46 0V5M83.46 204.3V214.3M83.46 413.1V423.1M83.46 613.8V618.8M96.54 0V5M96.54 204.3V214.3M96.54 413.1V423.1M96.54 613.8V618.8M109.62 0V5M109.62 204.3V214.3M109.62 413.1V423.1M109.62 613.8V618.8M122.70 0V10M122.70 199.3V219.3M122.70 408.1V428.1M122.70 608.8V618.8M135.78 0V5M135.78 204.3V214.3M135.78 413.1V423.1M135.78 613.8V618.8M148.86 0V5M148.86 204.3V214.3M148.86 413.1V423.1M148.86 613.8V618.8M161.94 0V5M161.94 204.3V214.3M161.94 413.1V423.1M161.94 613.8V618.8M175.02 0V5M175.02 204.3V214.3M175.02 413.1V423.1M175.02 613.8V618.8M188.10 0V10M188.10 199.3V219.3M188.10 408.1V428.1M188.10 608.8V618.8M201.18 0V5M201.18 204.3V214.3M201.18 413.1V423.1M201.18 613.8V618.8M214.26 0V5M214.26 204.3V214.3M214.26 413.1V423.1M214.26 613.8V618.8M227.34 0V5M227.34 204.3V214.3M227.34 413.1V423.1M227.34 613.8V618.8M240.42 0V5M240.42 204.3V214.3M240.42 413.1V423.1M240.42 613.8V618.8M253.50 0V10M253.50 199.3V219.3M253.50 408.1V428.1M253.50 608.8V618.8M266.58 0V5M266.58 204.3V214.3M266.58 413.1V423.1M266.58 613.8V618.8M279.66 0V5M279.66 204.3V214.3M279.66 413.1V423.1M279.66 613.8V618.8M292.74 0V5M292.74 204.3V214.3M292.74 413.1V423.1M292.74 613.8V618.8M305.82 0V5M305.82 204.3V214.3M305.82 413.1V423.1M305.82 613.8V618.8M318.90 0V10M318.90 199.3V219.3M318.90 408.1V428.1M318.90 608.8V618.8M331.98 0V5M331.98 204.3V214.3M331.98 413.1V423.1M331.98 613.8V618.8M345.06 0V5M345.06 204.3V214.3M345.06 413.1V423.1M345.06 613.8V618.8M358.14 0V5M358.14 204.3V214.3M358.14 413.1V423.1M358.14 613.8V618.8M371.22 0V5M371.22 204.3V214.3M371.22 413.1V423.1M371.22 613.8V618.8M384.30 0V10M384.30 199.3V219.3M384.30 408.1V428.1M384.30 608.8V618.8M397.38 0V5M397.38 204.3V214.3M397.38 413.1V423.1M397.38 613.8V618.8M410.46 0V5M410.46 204.3V214.3M410.46 413.1V423.1M410.46 613.8V618.8M423.54 0V5M423.54 204.3V214.3M423.54 413.1V423.1M423.54 613.8V618.8M436.62 0V5M436.62 204.3V214.3M436.62 413.1V423.1M436.62 613.8V618.8M449.70 0V10M449.70 199.3V219.3M449.70 408.1V428.1M449.70 608.8V618.8M462.78 0V5M462.78 204.3V214.3M462.78 413.1V423.1M462.78 613.8V618.8M475.86 0V5M475.86 204.3V214.3M475.86 413.1V423.1M475.86 613.8V618.8M488.94 0V5M488.94 204.3V214.3M488.94 413.1V423.1M488.94 613.8V618.8M502.02 0V5M502.02 204.3V214.3M502.02 413.1V423.1M502.02 613.8V618.8M515.10 0V10M515.10 199.3V219.3M515.10 408.1V428.1M515.10 608.8V618.8" stroke="#000" stroke-width="1.2" fill="none"/><path d="M56.4 0.9H515.6M56.4 209.3H515.6M56.4 418.1H515.6M56.4 618.8H515.6" stroke="#000" stroke-width="1.8" fill="none"/><path d="M57 0V418.1M514.95 0V418.1" stroke="#000" stroke-width="1.3" fill="none" opacity="0.85"/><path d="M57.2 418.1V619.6M514.95 418.1V619.6" stroke="#000" stroke-width="1.75" fill="none"/><text transform="translate(26.48,195.00) scale(1.1060,1)" font-size="16.5" fill="#000" font-family="Liberation Sans, sans-serif">0.4</text><text transform="translate(26.66,153.30) scale(1.1060,1)" font-size="16.5" fill="#000" font-family="Liberation Sans, sans-serif">0.6</text><text transform="translate(26.66,111.60) scale(1.1060,1)" font-size="16.5" fill="#000" font-family="Liberation Sans, sans-serif">0.8</text><text transform="translate(26.66,69.90) scale(1.1060,1)" font-size="16.5" fill="#000" font-family="Liberation Sans, sans-serif">1.0</text><text transform="translate(26.85,28.20) scale(1.1060,1)" font-size="16.5" fill="#000" font-family="Liberation Sans, sans-serif">1.2</text><text transform="translate(26.66,398.84) scale(1.1060,1)" font-size="16.5" fill="#000" font-family="Liberation Sans, sans-serif">0.6</text><text transform="translate(26.66,346.60) scale(1.1060,1)" font-size="16.5" fill="#000" font-family="Liberation Sans, sans-serif">0.8</text><text transform="translate(26.66,294.36) scale(1.1060,1)" font-size="16.5" fill="#000" font-family="Liberation Sans, sans-serif">1.0</text><text transform="translate(26.85,242.12) scale(1.1060,1)" font-size="16.5" fill="#000" font-family="Liberation Sans, sans-serif">1.2</text><text transform="translate(26.48,605.48) scale(1.1060,1)" font-size="16.5" fill="#000" font-family="Liberation Sans, sans-serif">0.4</text><text transform="translate(26.66,565.32) scale(1.1060,1)" font-size="16.5" fill="#000" font-family="Liberation Sans, sans-serif">0.6</text><text transform="translate(26.66,525.17) scale(1.1060,1)" font-size="16.5" fill="#000" font-family="Liberation Sans, sans-serif">0.8</text><text transform="translate(26.66,485.02) scale(1.1060,1)" font-size="16.5" fill="#000" font-family="Liberation Sans, sans-serif">1.0</text><text transform="translate(26.85,444.88) scale(1.1060,1)" font-size="16.5" fill="#000" font-family="Liberation Sans, sans-serif">1.2</text><text transform="translate(44.27,641.90) scale(1.1060,1)" font-size="16.5" fill="#000" font-family="Liberation Sans, sans-serif">5.0</text><text transform="translate(109.67,641.90) scale(1.1060,1)" font-size="16.5" fill="#000" font-family="Liberation Sans, sans-serif">5.5</text><text transform="translate(174.98,641.90) scale(1.1060,1)" font-size="16.5" fill="#000" font-family="Liberation Sans, sans-serif">6.0</text><text transform="translate(240.38,641.90) scale(1.1060,1)" font-size="16.5" fill="#000" font-family="Liberation Sans, sans-serif">6.5</text><text transform="translate(305.78,641.90) scale(1.1060,1)" font-size="16.5" fill="#000" font-family="Liberation Sans, sans-serif">7.0</text><text transform="translate(371.18,641.90) scale(1.1060,1)" font-size="16.5" fill="#000" font-family="Liberation Sans, sans-serif">7.5</text><text transform="translate(436.67,641.90) scale(1.1060,1)" font-size="16.5" fill="#000" font-family="Liberation Sans, sans-serif">8.0</text><text transform="translate(502.07,641.90) scale(1.1060,1)" font-size="16.5" fill="#000" font-family="Liberation Sans, sans-serif">8.5</text><text transform="translate(235.00,660.90) scale(1.0515,1)" font-size="15.5" fill="#000" font-family="Liberation Sans, sans-serif">Energy</text><text transform="translate(295.38,660.90) scale(1.0971,1)" font-size="15.5" fill="#000" font-family="Liberation Sans, sans-serif">(keV)</text><text transform="translate(13.00,151.75) rotate(-90) scale(1.2466,1)" font-size="15" fill="#000" font-family="Liberation Sans, sans-serif">data/model</text><text transform="translate(13.00,360.14) rotate(-90) scale(1.2410,1)" font-size="15" fill="#000" font-family="Liberation Sans, sans-serif">data/model</text><text transform="translate(13.00,565.15) rotate(-90) scale(1.2438,1)" font-size="15" fill="#000" font-family="Liberation Sans, sans-serif">data/model</text><text transform="translate(69.79,168.00) scale(0.8637,1)" font-size="16.5" fill="#f00" font-family="Liberation Sans, sans-serif">GRS</text><text transform="translate(110.04,168.00) scale(1.1090,1)" font-size="16.5" fill="#f00" font-family="Liberation Sans, sans-serif">1915+105</text><text transform="translate(200.39,168.00) scale(1.1224,1)" font-size="16.5" fill="#f00" font-family="Liberation Sans, sans-serif">(2007)</text><text transform="translate(69.79,379.10) scale(0.8637,1)" font-size="16.5" fill="#f00" font-family="Liberation Sans, sans-serif">GRS</text><text transform="translate(110.04,379.10) scale(1.1090,1)" font-size="16.5" fill="#f00" font-family="Liberation Sans, sans-serif">1915+105</text><text transform="translate(200.39,379.10) scale(1.1224,1)" font-size="16.5" fill="#f00" font-family="Liberation Sans, sans-serif">(2015)</text><text transform="translate(70.11,529.00) scale(1.0806,1)" font-size="16.5" fill="#9a9a9a" font-family="Liberation Sans, sans-serif">2007</text><text transform="translate(118.20,529.00) scale(1.1075,1)" font-size="16.5" fill="#9a9a9a" font-family="Liberation Sans, sans-serif">(data)</text><text transform="translate(70.11,548.90) scale(1.0806,1)" font-size="16.5" fill="#00f" font-family="Liberation Sans, sans-serif">2007</text><text transform="translate(118.23,548.90) scale(1.0842,1)" font-size="16.5" fill="#00f" font-family="Liberation Sans, sans-serif">(model)</text><text transform="translate(70.11,569.00) scale(1.0755,1)" font-size="16.5" fill="#000" font-family="Liberation Sans, sans-serif">2015</text><text transform="translate(118.20,569.00) scale(1.1075,1)" font-size="16.5" fill="#000" font-family="Liberation Sans, sans-serif">(data)</text><text transform="translate(70.11,589.00) scale(1.0755,1)" font-size="16.5" fill="#f00" font-family="Liberation Sans, sans-serif">2015</text><text transform="translate(118.23,589.00) scale(1.0842,1)" font-size="16.5" fill="#f00" font-family="Liberation Sans, sans-serif">(model)</text>
</svg></body></html>
